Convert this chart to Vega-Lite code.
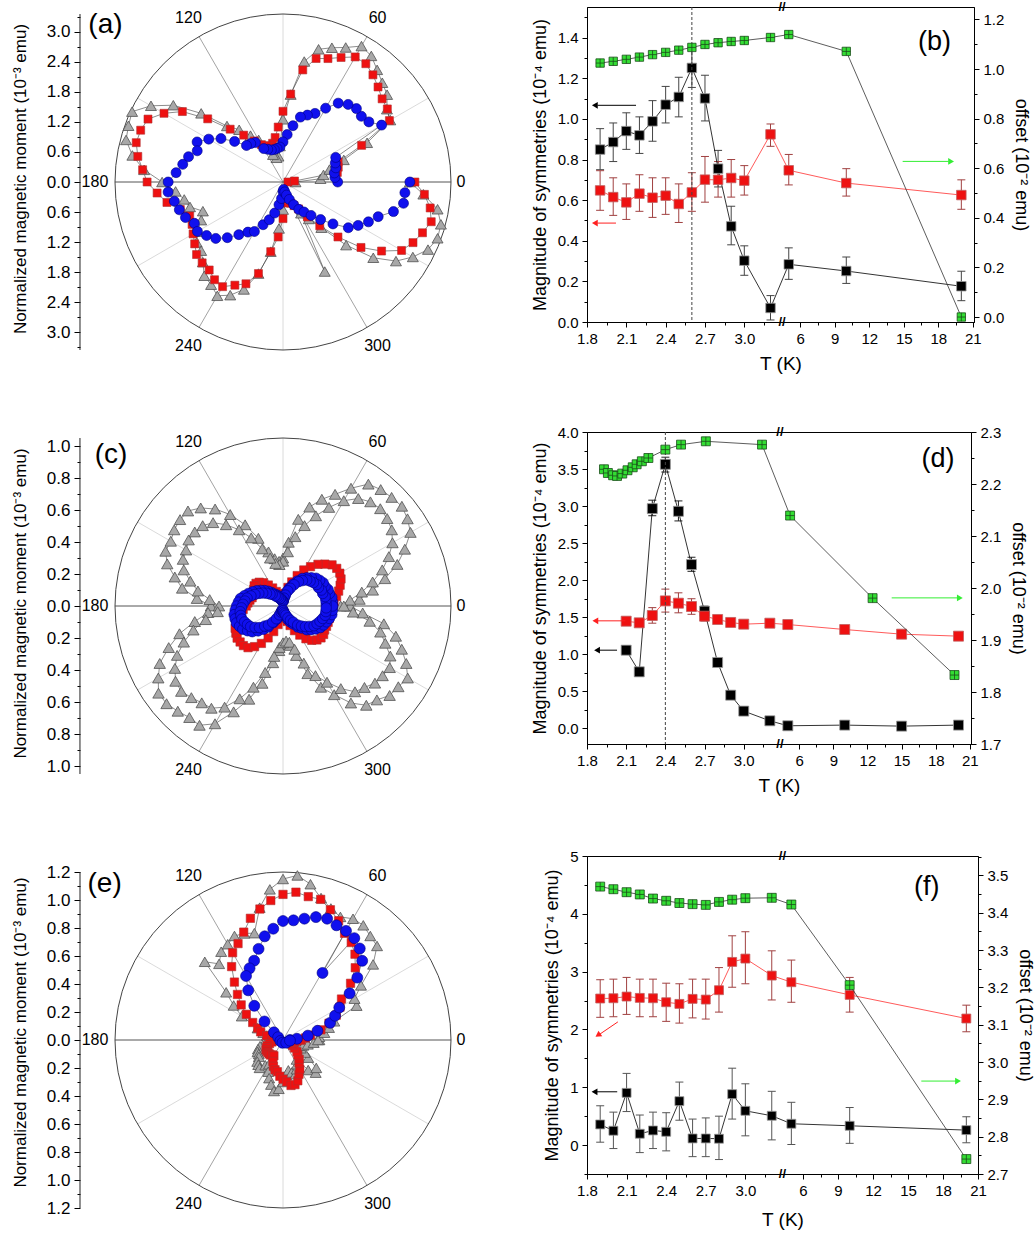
{
"$schema": "https://vega.github.io/schema/vega-lite/v6.json",
"padding": {"left": 11, "top": 0, "right": 5, "bottom": 5},
"config": {
 "font": "Liberation Sans",
 "view": {"stroke": null},
 "axis": {"labelFont": "Liberation Sans", "titleFont": "Liberation Sans", "labelColor": "#000", "titleColor": "#000", "domainColor": "#000", "tickColor": "#000", "grid": false, "titleFontWeight": "normal", "labelFontSize": 15, "titleFontSize": 18, "domainWidth": 1, "tickWidth": 1, "labelOverlap": false, "labelFlush": false},
 "text": {"font": "Liberation Sans", "color": "#000"}
},
"datasets": {
 "sp": [{"a":0},{"a":30},{"a":60},{"a":90},{"a":120},{"a":150},{"a":180},{"a":210},{"a":240},{"a":270},{"a":300},{"a":330}],
 "al": [{"a":0,"t":"0"},{"a":60,"t":"60"},{"a":120,"t":"120"},{"a":180,"t":"180"},{"a":240,"t":"240"},{"a":300,"t":"300"}],
 "pol": [
{"p":"a","s":"g","a":0,"r":0.25},{"p":"a","s":"g","a":5,"r":0.75},{"p":"a","s":"g","a":10,"r":0.82},{"p":"a","s":"g","a":15,"r":0.96},{"p":"a","s":"g","a":20,"r":1.29},{"p":"a","s":"g","a":25,"r":1.85},{"p":"a","s":"g","a":30,"r":2.47},{"p":"a","s":"g","a":35,"r":2.53},{"p":"a","s":"g","a":40,"r":2.71},{"p":"a","s":"g","a":45,"r":2.8},{"p":"a","s":"g","a":50,"r":2.92},{"p":"a","s":"g","a":55,"r":3.07},{"p":"a","s":"g","a":60,"r":3.13},{"p":"a","s":"g","a":65,"r":2.96},{"p":"a","s":"g","a":70,"r":2.85},{"p":"a","s":"g","a":75,"r":2.74},{"p":"a","s":"g","a":80,"r":2.44},{"p":"a","s":"g","a":85,"r":1.75},{"p":"a","s":"g","a":90,"r":1.25},{"p":"a","s":"g","a":95,"r":0.72},{"p":"a","s":"g","a":100,"r":0.52},{"p":"a","s":"g","a":105,"r":0.5},{"p":"a","s":"g","a":110,"r":0.58},{"p":"a","s":"g","a":115,"r":0.75},{"p":"a","s":"g","a":120,"r":0.97},{"p":"a","s":"g","a":125,"r":1.13},{"p":"a","s":"g","a":130,"r":1.36},{"p":"a","s":"g","a":135,"r":1.58},{"p":"a","s":"g","a":140,"r":2.13},{"p":"a","s":"g","a":145,"r":2.67},{"p":"a","s":"g","a":150,"r":3.04},{"p":"a","s":"g","a":155,"r":3.32},{"p":"a","s":"g","a":160,"r":3.28},{"p":"a","s":"g","a":165,"r":3.24},{"p":"a","s":"g","a":170,"r":3.05},{"p":"a","s":"g","a":175,"r":2.78},{"p":"a","s":"g","a":180,"r":2.41},{"p":"a","s":"g","a":185,"r":2.15},{"p":"a","s":"g","a":190,"r":2.0},{"p":"a","s":"g","a":195,"r":1.92},{"p":"a","s":"g","a":200,"r":1.7},{"p":"a","s":"g","a":205,"r":1.8},{"p":"a","s":"g","a":210,"r":1.98},{"p":"a","s":"g","a":215,"r":2.1},{"p":"a","s":"g","a":220,"r":2.13},{"p":"a","s":"g","a":225,"r":2.26},{"p":"a","s":"g","a":230,"r":2.44},{"p":"a","s":"g","a":235,"r":2.5},{"p":"a","s":"g","a":240,"r":2.62},{"p":"a","s":"g","a":245,"r":2.49},{"p":"a","s":"g","a":250,"r":2.28},{"p":"a","s":"g","a":255,"r":1.89},{"p":"a","s":"g","a":260,"r":1.41},{"p":"a","s":"g","a":265,"r":0.93},{"p":"a","s":"g","a":270,"r":0.55},{"p":"a","s":"g","a":275,"r":0.35},{"p":"a","s":"g","a":280,"r":0.3},{"p":"a","s":"g","a":285,"r":0.32},{"p":"a","s":"g","a":290,"r":0.42},{"p":"a","s":"g","a":295,"r":1.97},{"p":"a","s":"g","a":300,"r":0.72},{"p":"a","s":"g","a":305,"r":0.9},{"p":"a","s":"g","a":310,"r":1.19},{"p":"a","s":"g","a":315,"r":1.78},{"p":"a","s":"g","a":320,"r":2.35},{"p":"a","s":"g","a":325,"r":2.75},{"p":"a","s":"g","a":330,"r":2.99},{"p":"a","s":"g","a":335,"r":3.19},{"p":"a","s":"g","a":340,"r":3.28},{"p":"a","s":"g","a":345,"r":3.26},{"p":"a","s":"g","a":350,"r":3.13},{"p":"a","s":"g","a":355,"r":2.81},{"p":"a","s":"g","a":360,"r":2.53},
{"p":"a","s":"r","a":0,"r":0.1},{"p":"a","s":"r","a":5,"r":0.23},{"p":"a","s":"r","a":10,"r":1.1},{"p":"a","s":"r","a":15,"r":1.14},{"p":"a","s":"r","a":20,"r":1.17},{"p":"a","s":"r","a":25,"r":1.73},{"p":"a","s":"r","a":30,"r":2.45},{"p":"a","s":"r","a":35,"r":2.54},{"p":"a","s":"r","a":40,"r":2.58},{"p":"a","s":"r","a":45,"r":2.68},{"p":"a","s":"r","a":50,"r":2.79},{"p":"a","s":"r","a":55,"r":2.88},{"p":"a","s":"r","a":60,"r":2.88},{"p":"a","s":"r","a":65,"r":2.74},{"p":"a","s":"r","a":70,"r":2.62},{"p":"a","s":"r","a":75,"r":2.55},{"p":"a","s":"r","a":80,"r":2.27},{"p":"a","s":"r","a":85,"r":1.76},{"p":"a","s":"r","a":90,"r":1.41},{"p":"a","s":"r","a":95,"r":1.1},{"p":"a","s":"r","a":100,"r":0.9},{"p":"a","s":"r","a":105,"r":0.8},{"p":"a","s":"r","a":110,"r":0.76},{"p":"a","s":"r","a":115,"r":0.8},{"p":"a","s":"r","a":120,"r":0.86},{"p":"a","s":"r","a":125,"r":1.0},{"p":"a","s":"r","a":130,"r":1.22},{"p":"a","s":"r","a":135,"r":1.49},{"p":"a","s":"r","a":140,"r":1.96},{"p":"a","s":"r","a":145,"r":2.45},{"p":"a","s":"r","a":150,"r":2.74},{"p":"a","s":"r","a":155,"r":2.97},{"p":"a","s":"r","a":160,"r":3.02},{"p":"a","s":"r","a":165,"r":3.03},{"p":"a","s":"r","a":170,"r":2.94},{"p":"a","s":"r","a":175,"r":2.81},{"p":"a","s":"r","a":180,"r":2.71},{"p":"a","s":"r","a":185,"r":2.52},{"p":"a","s":"r","a":190,"r":2.35},{"p":"a","s":"r","a":195,"r":2.12},{"p":"a","s":"r","a":200,"r":1.98},{"p":"a","s":"r","a":205,"r":2.0},{"p":"a","s":"r","a":210,"r":2.07},{"p":"a","s":"r","a":215,"r":2.15},{"p":"a","s":"r","a":220,"r":2.25},{"p":"a","s":"r","a":225,"r":2.28},{"p":"a","s":"r","a":230,"r":2.29},{"p":"a","s":"r","a":235,"r":2.38},{"p":"a","s":"r","a":240,"r":2.41},{"p":"a","s":"r","a":245,"r":2.27},{"p":"a","s":"r","a":250,"r":2.16},{"p":"a","s":"r","a":255,"r":1.89},{"p":"a","s":"r","a":260,"r":1.41},{"p":"a","s":"r","a":265,"r":1.1},{"p":"a","s":"r","a":270,"r":0.73},{"p":"a","s":"r","a":275,"r":0.42},{"p":"a","s":"r","a":280,"r":0.3},{"p":"a","s":"r","a":285,"r":0.35},{"p":"a","s":"r","a":290,"r":0.45},{"p":"a","s":"r","a":295,"r":0.52},{"p":"a","s":"r","a":300,"r":0.62},{"p":"a","s":"r","a":305,"r":0.85},{"p":"a","s":"r","a":310,"r":1.14},{"p":"a","s":"r","a":315,"r":1.55},{"p":"a","s":"r","a":320,"r":2.03},{"p":"a","s":"r","a":325,"r":2.4},{"p":"a","s":"r","a":330,"r":2.73},{"p":"a","s":"r","a":335,"r":2.86},{"p":"a","s":"r","a":340,"r":2.96},{"p":"a","s":"r","a":345,"r":3.06},{"p":"a","s":"r","a":350,"r":2.98},{"p":"a","s":"r","a":355,"r":2.83},{"p":"a","s":"r","a":360,"r":2.63},
{"p":"a","s":"b","a":0,"r":1.09},{"p":"a","s":"b","a":5,"r":1.04},{"p":"a","s":"b","a":10,"r":1.04},{"p":"a","s":"b","a":15,"r":1.09},{"p":"a","s":"b","a":20,"r":1.11},{"p":"a","s":"b","a":25,"r":1.16},{"p":"a","s":"b","a":30,"r":2.27},{"p":"a","s":"b","a":35,"r":2.09},{"p":"a","s":"b","a":40,"r":2.04},{"p":"a","s":"b","a":45,"r":2.07},{"p":"a","s":"b","a":50,"r":2.02},{"p":"a","s":"b","a":55,"r":1.92},{"p":"a","s":"b","a":60,"r":1.7},{"p":"a","s":"b","a":65,"r":1.51},{"p":"a","s":"b","a":70,"r":1.42},{"p":"a","s":"b","a":75,"r":1.34},{"p":"a","s":"b","a":80,"r":1.14},{"p":"a","s":"b","a":85,"r":0.95},{"p":"a","s":"b","a":90,"r":0.8},{"p":"a","s":"b","a":95,"r":0.7},{"p":"a","s":"b","a":100,"r":0.68},{"p":"a","s":"b","a":105,"r":0.67},{"p":"a","s":"b","a":110,"r":0.68},{"p":"a","s":"b","a":115,"r":0.72},{"p":"a","s":"b","a":120,"r":0.77},{"p":"a","s":"b","a":125,"r":0.96},{"p":"a","s":"b","a":130,"r":1.0},{"p":"a","s":"b","a":135,"r":1.03},{"p":"a","s":"b","a":140,"r":1.26},{"p":"a","s":"b","a":145,"r":1.51},{"p":"a","s":"b","a":150,"r":1.71},{"p":"a","s":"b","a":155,"r":1.89},{"p":"a","s":"b","a":160,"r":1.82},{"p":"a","s":"b","a":165,"r":1.95},{"p":"a","s":"b","a":170,"r":2.03},{"p":"a","s":"b","a":175,"r":2.14},{"p":"a","s":"b","a":180,"r":2.29},{"p":"a","s":"b","a":185,"r":2.3},{"p":"a","s":"b","a":190,"r":2.2},{"p":"a","s":"b","a":195,"r":2.14},{"p":"a","s":"b","a":200,"r":2.07},{"p":"a","s":"b","a":205,"r":1.95},{"p":"a","s":"b","a":210,"r":1.97},{"p":"a","s":"b","a":215,"r":1.86},{"p":"a","s":"b","a":220,"r":1.75},{"p":"a","s":"b","a":225,"r":1.57},{"p":"a","s":"b","a":230,"r":1.37},{"p":"a","s":"b","a":235,"r":1.22},{"p":"a","s":"b","a":240,"r":1.14},{"p":"a","s":"b","a":245,"r":0.94},{"p":"a","s":"b","a":250,"r":0.8},{"p":"a","s":"b","a":255,"r":0.64},{"p":"a","s":"b","a":260,"r":0.46},{"p":"a","s":"b","a":265,"r":0.33},{"p":"a","s":"b","a":270,"r":0.19},{"p":"a","s":"b","a":275,"r":0.15},{"p":"a","s":"b","a":280,"r":0.2},{"p":"a","s":"b","a":285,"r":0.27},{"p":"a","s":"b","a":290,"r":0.37},{"p":"a","s":"b","a":295,"r":0.5},{"p":"a","s":"b","a":300,"r":0.63},{"p":"a","s":"b","a":305,"r":0.73},{"p":"a","s":"b","a":310,"r":0.87},{"p":"a","s":"b","a":315,"r":1.06},{"p":"a","s":"b","a":320,"r":1.3},{"p":"a","s":"b","a":325,"r":1.59},{"p":"a","s":"b","a":330,"r":1.73},{"p":"a","s":"b","a":335,"r":1.88},{"p":"a","s":"b","a":340,"r":2.02},{"p":"a","s":"b","a":345,"r":2.28},{"p":"a","s":"b","a":350,"r":2.44},{"p":"a","s":"b","a":355,"r":2.44},{"p":"a","s":"b","a":360,"r":2.53},
{"p":"c","s":"g","a":0,"r":0.4},{"p":"c","s":"g","a":5,"r":0.48},{"p":"c","s":"g","a":10,"r":0.57},{"p":"c","s":"g","a":15,"r":0.66},{"p":"c","s":"g","a":20,"r":0.76},{"p":"c","s":"g","a":25,"r":0.84},{"p":"c","s":"g","a":30,"r":0.92},{"p":"c","s":"g","a":35,"r":0.95},{"p":"c","s":"g","a":40,"r":0.97},{"p":"c","s":"g","a":45,"r":0.96},{"p":"c","s":"g","a":50,"r":0.95},{"p":"c","s":"g","a":55,"r":0.93},{"p":"c","s":"g","a":60,"r":0.85},{"p":"c","s":"g","a":65,"r":0.77},{"p":"c","s":"g","a":70,"r":0.71},{"p":"c","s":"g","a":75,"r":0.64},{"p":"c","s":"g","a":80,"r":0.55},{"p":"c","s":"g","a":85,"r":0.4},{"p":"c","s":"g","a":90,"r":0.3},{"p":"c","s":"g","a":95,"r":0.28},{"p":"c","s":"g","a":100,"r":0.3},{"p":"c","s":"g","a":105,"r":0.35},{"p":"c","s":"g","a":110,"r":0.45},{"p":"c","s":"g","a":115,"r":0.56},{"p":"c","s":"g","a":120,"r":0.66},{"p":"c","s":"g","a":125,"r":0.74},{"p":"c","s":"g","a":130,"r":0.8},{"p":"c","s":"g","a":135,"r":0.84},{"p":"c","s":"g","a":140,"r":0.84},{"p":"c","s":"g","a":145,"r":0.83},{"p":"c","s":"g","a":150,"r":0.81},{"p":"c","s":"g","a":155,"r":0.81},{"p":"c","s":"g","a":160,"r":0.77},{"p":"c","s":"g","a":165,"r":0.7},{"p":"c","s":"g","a":170,"r":0.64},{"p":"c","s":"g","a":175,"r":0.54},{"p":"c","s":"g","a":180,"r":0.45},{"p":"c","s":"g","a":185,"r":0.47},{"p":"c","s":"g","a":190,"r":0.56},{"p":"c","s":"g","a":195,"r":0.67},{"p":"c","s":"g","a":200,"r":0.76},{"p":"c","s":"g","a":205,"r":0.85},{"p":"c","s":"g","a":210,"r":0.9},{"p":"c","s":"g","a":215,"r":0.95},{"p":"c","s":"g","a":220,"r":0.95},{"p":"c","s":"g","a":225,"r":0.93},{"p":"c","s":"g","a":230,"r":0.91},{"p":"c","s":"g","a":235,"r":0.91},{"p":"c","s":"g","a":240,"r":0.85},{"p":"c","s":"g","a":245,"r":0.73},{"p":"c","s":"g","a":250,"r":0.62},{"p":"c","s":"g","a":255,"r":0.5},{"p":"c","s":"g","a":260,"r":0.36},{"p":"c","s":"g","a":265,"r":0.28},{"p":"c","s":"g","a":270,"r":0.24},{"p":"c","s":"g","a":275,"r":0.24},{"p":"c","s":"g","a":280,"r":0.25},{"p":"c","s":"g","a":285,"r":0.32},{"p":"c","s":"g","a":290,"r":0.45},{"p":"c","s":"g","a":295,"r":0.56},{"p":"c","s":"g","a":300,"r":0.64},{"p":"c","s":"g","a":305,"r":0.74},{"p":"c","s":"g","a":310,"r":0.81},{"p":"c","s":"g","a":315,"r":0.83},{"p":"c","s":"g","a":320,"r":0.87},{"p":"c","s":"g","a":325,"r":0.88},{"p":"c","s":"g","a":330,"r":0.9},{"p":"c","s":"g","a":335,"r":0.85},{"p":"c","s":"g","a":340,"r":0.79},{"p":"c","s":"g","a":345,"r":0.73},{"p":"c","s":"g","a":350,"r":0.64},{"p":"c","s":"g","a":355,"r":0.5},{"p":"c","s":"g","a":360,"r":0.42},
{"p":"c","s":"g2","a":0,"r":0.36},{"p":"c","s":"g2","a":5,"r":0.42},{"p":"c","s":"g2","a":10,"r":0.5},{"p":"c","s":"g2","a":15,"r":0.58},{"p":"c","s":"g2","a":20,"r":0.66},{"p":"c","s":"g2","a":25,"r":0.73},{"p":"c","s":"g2","a":30,"r":0.79},{"p":"c","s":"g2","a":35,"r":0.83},{"p":"c","s":"g2","a":40,"r":0.85},{"p":"c","s":"g2","a":45,"r":0.86},{"p":"c","s":"g2","a":50,"r":0.85},{"p":"c","s":"g2","a":55,"r":0.82},{"p":"c","s":"g2","a":60,"r":0.76},{"p":"c","s":"g2","a":65,"r":0.68},{"p":"c","s":"g2","a":70,"r":0.6},{"p":"c","s":"g2","a":75,"r":0.52},{"p":"c","s":"g2","a":80,"r":0.44},{"p":"c","s":"g2","a":85,"r":0.34},{"p":"c","s":"g2","a":90,"r":0.28},{"p":"c","s":"g2","a":95,"r":0.26},{"p":"c","s":"g2","a":100,"r":0.27},{"p":"c","s":"g2","a":105,"r":0.31},{"p":"c","s":"g2","a":110,"r":0.38},{"p":"c","s":"g2","a":115,"r":0.47},{"p":"c","s":"g2","a":120,"r":0.55},{"p":"c","s":"g2","a":125,"r":0.62},{"p":"c","s":"g2","a":130,"r":0.68},{"p":"c","s":"g2","a":135,"r":0.71},{"p":"c","s":"g2","a":140,"r":0.72},{"p":"c","s":"g2","a":145,"r":0.72},{"p":"c","s":"g2","a":150,"r":0.7},{"p":"c","s":"g2","a":155,"r":0.69},{"p":"c","s":"g2","a":160,"r":0.66},{"p":"c","s":"g2","a":165,"r":0.6},{"p":"c","s":"g2","a":170,"r":0.54},{"p":"c","s":"g2","a":175,"r":0.46},{"p":"c","s":"g2","a":180,"r":0.4},{"p":"c","s":"g2","a":185,"r":0.41},{"p":"c","s":"g2","a":190,"r":0.49},{"p":"c","s":"g2","a":195,"r":0.58},{"p":"c","s":"g2","a":200,"r":0.66},{"p":"c","s":"g2","a":205,"r":0.73},{"p":"c","s":"g2","a":210,"r":0.78},{"p":"c","s":"g2","a":215,"r":0.82},{"p":"c","s":"g2","a":220,"r":0.83},{"p":"c","s":"g2","a":225,"r":0.81},{"p":"c","s":"g2","a":230,"r":0.79},{"p":"c","s":"g2","a":235,"r":0.78},{"p":"c","s":"g2","a":240,"r":0.73},{"p":"c","s":"g2","a":245,"r":0.64},{"p":"c","s":"g2","a":250,"r":0.54},{"p":"c","s":"g2","a":255,"r":0.43},{"p":"c","s":"g2","a":260,"r":0.32},{"p":"c","s":"g2","a":265,"r":0.26},{"p":"c","s":"g2","a":270,"r":0.23},{"p":"c","s":"g2","a":275,"r":0.22},{"p":"c","s":"g2","a":280,"r":0.23},{"p":"c","s":"g2","a":285,"r":0.28},{"p":"c","s":"g2","a":290,"r":0.38},{"p":"c","s":"g2","a":295,"r":0.48},{"p":"c","s":"g2","a":300,"r":0.55},{"p":"c","s":"g2","a":305,"r":0.63},{"p":"c","s":"g2","a":310,"r":0.7},{"p":"c","s":"g2","a":315,"r":0.72},{"p":"c","s":"g2","a":320,"r":0.75},{"p":"c","s":"g2","a":325,"r":0.76},{"p":"c","s":"g2","a":330,"r":0.77},{"p":"c","s":"g2","a":335,"r":0.74},{"p":"c","s":"g2","a":340,"r":0.68},{"p":"c","s":"g2","a":345,"r":0.63},{"p":"c","s":"g2","a":350,"r":0.55},{"p":"c","s":"g2","a":355,"r":0.44},{"p":"c","s":"g2","a":360,"r":0.38},
{"p":"c","s":"r","a":0,"r":0.31},{"p":"c","s":"r","a":5,"r":0.32},{"p":"c","s":"r","a":10,"r":0.34},{"p":"c","s":"r","a":15,"r":0.36},{"p":"c","s":"r","a":20,"r":0.38},{"p":"c","s":"r","a":25,"r":0.4},{"p":"c","s":"r","a":30,"r":0.41},{"p":"c","s":"r","a":35,"r":0.41},{"p":"c","s":"r","a":40,"r":0.4},{"p":"c","s":"r","a":45,"r":0.37},{"p":"c","s":"r","a":50,"r":0.34},{"p":"c","s":"r","a":55,"r":0.3},{"p":"c","s":"r","a":60,"r":0.26},{"p":"c","s":"r","a":65,"r":0.21},{"p":"c","s":"r","a":70,"r":0.16},{"p":"c","s":"r","a":75,"r":0.12},{"p":"c","s":"r","a":80,"r":0.08},{"p":"c","s":"r","a":85,"r":0.05},{"p":"c","s":"r","a":90,"r":0.04},{"p":"c","s":"r","a":95,"r":0.04},{"p":"c","s":"r","a":100,"r":0.05},{"p":"c","s":"r","a":105,"r":0.06},{"p":"c","s":"r","a":110,"r":0.08},{"p":"c","s":"r","a":115,"r":0.1},{"p":"c","s":"r","a":120,"r":0.13},{"p":"c","s":"r","a":125,"r":0.16},{"p":"c","s":"r","a":130,"r":0.19},{"p":"c","s":"r","a":135,"r":0.21},{"p":"c","s":"r","a":140,"r":0.22},{"p":"c","s":"r","a":145,"r":0.22},{"p":"c","s":"r","a":150,"r":0.21},{"p":"c","s":"r","a":155,"r":0.2},{"p":"c","s":"r","a":160,"r":0.2},{"p":"c","s":"r","a":165,"r":0.2},{"p":"c","s":"r","a":170,"r":0.21},{"p":"c","s":"r","a":175,"r":0.22},{"p":"c","s":"r","a":180,"r":0.23},{"p":"c","s":"r","a":185,"r":0.25},{"p":"c","s":"r","a":190,"r":0.27},{"p":"c","s":"r","a":195,"r":0.29},{"p":"c","s":"r","a":200,"r":0.31},{"p":"c","s":"r","a":205,"r":0.33},{"p":"c","s":"r","a":210,"r":0.34},{"p":"c","s":"r","a":215,"r":0.35},{"p":"c","s":"r","a":220,"r":0.35},{"p":"c","s":"r","a":225,"r":0.35},{"p":"c","s":"r","a":230,"r":0.34},{"p":"c","s":"r","a":235,"r":0.31},{"p":"c","s":"r","a":240,"r":0.27},{"p":"c","s":"r","a":245,"r":0.22},{"p":"c","s":"r","a":250,"r":0.17},{"p":"c","s":"r","a":255,"r":0.12},{"p":"c","s":"r","a":260,"r":0.08},{"p":"c","s":"r","a":265,"r":0.05},{"p":"c","s":"r","a":270,"r":0.04},{"p":"c","s":"r","a":275,"r":0.05},{"p":"c","s":"r","a":280,"r":0.07},{"p":"c","s":"r","a":285,"r":0.1},{"p":"c","s":"r","a":290,"r":0.13},{"p":"c","s":"r","a":295,"r":0.17},{"p":"c","s":"r","a":300,"r":0.21},{"p":"c","s":"r","a":305,"r":0.25},{"p":"c","s":"r","a":310,"r":0.28},{"p":"c","s":"r","a":315,"r":0.3},{"p":"c","s":"r","a":320,"r":0.31},{"p":"c","s":"r","a":325,"r":0.31},{"p":"c","s":"r","a":330,"r":0.3},{"p":"c","s":"r","a":335,"r":0.3},{"p":"c","s":"r","a":340,"r":0.3},{"p":"c","s":"r","a":345,"r":0.3},{"p":"c","s":"r","a":350,"r":0.3},{"p":"c","s":"r","a":355,"r":0.3},{"p":"c","s":"r","a":360,"r":0.31},
{"p":"c","s":"b","a":0,"r":0.31},{"p":"c","s":"b","a":5,"r":0.31},{"p":"c","s":"b","a":10,"r":0.31},{"p":"c","s":"b","a":15,"r":0.3},{"p":"c","s":"b","a":20,"r":0.3},{"p":"c","s":"b","a":25,"r":0.29},{"p":"c","s":"b","a":30,"r":0.29},{"p":"c","s":"b","a":35,"r":0.28},{"p":"c","s":"b","a":40,"r":0.27},{"p":"c","s":"b","a":45,"r":0.25},{"p":"c","s":"b","a":50,"r":0.23},{"p":"c","s":"b","a":55,"r":0.21},{"p":"c","s":"b","a":60,"r":0.18},{"p":"c","s":"b","a":65,"r":0.15},{"p":"c","s":"b","a":70,"r":0.12},{"p":"c","s":"b","a":75,"r":0.09},{"p":"c","s":"b","a":80,"r":0.06},{"p":"c","s":"b","a":85,"r":0.04},{"p":"c","s":"b","a":90,"r":0.03},{"p":"c","s":"b","a":95,"r":0.03},{"p":"c","s":"b","a":100,"r":0.04},{"p":"c","s":"b","a":105,"r":0.05},{"p":"c","s":"b","a":110,"r":0.06},{"p":"c","s":"b","a":115,"r":0.07},{"p":"c","s":"b","a":120,"r":0.08},{"p":"c","s":"b","a":125,"r":0.09},{"p":"c","s":"b","a":130,"r":0.11},{"p":"c","s":"b","a":135,"r":0.13},{"p":"c","s":"b","a":140,"r":0.15},{"p":"c","s":"b","a":145,"r":0.17},{"p":"c","s":"b","a":150,"r":0.19},{"p":"c","s":"b","a":155,"r":0.21},{"p":"c","s":"b","a":160,"r":0.23},{"p":"c","s":"b","a":165,"r":0.25},{"p":"c","s":"b","a":170,"r":0.27},{"p":"c","s":"b","a":175,"r":0.28},{"p":"c","s":"b","a":180,"r":0.29},{"p":"c","s":"b","a":185,"r":0.3},{"p":"c","s":"b","a":190,"r":0.31},{"p":"c","s":"b","a":195,"r":0.31},{"p":"c","s":"b","a":200,"r":0.31},{"p":"c","s":"b","a":205,"r":0.3},{"p":"c","s":"b","a":210,"r":0.29},{"p":"c","s":"b","a":215,"r":0.27},{"p":"c","s":"b","a":220,"r":0.25},{"p":"c","s":"b","a":225,"r":0.22},{"p":"c","s":"b","a":230,"r":0.19},{"p":"c","s":"b","a":235,"r":0.16},{"p":"c","s":"b","a":240,"r":0.12},{"p":"c","s":"b","a":245,"r":0.09},{"p":"c","s":"b","a":250,"r":0.06},{"p":"c","s":"b","a":255,"r":0.04},{"p":"c","s":"b","a":260,"r":0.03},{"p":"c","s":"b","a":265,"r":0.03},{"p":"c","s":"b","a":270,"r":0.03},{"p":"c","s":"b","a":275,"r":0.04},{"p":"c","s":"b","a":280,"r":0.05},{"p":"c","s":"b","a":285,"r":0.07},{"p":"c","s":"b","a":290,"r":0.09},{"p":"c","s":"b","a":295,"r":0.11},{"p":"c","s":"b","a":300,"r":0.13},{"p":"c","s":"b","a":305,"r":0.16},{"p":"c","s":"b","a":310,"r":0.18},{"p":"c","s":"b","a":315,"r":0.21},{"p":"c","s":"b","a":320,"r":0.23},{"p":"c","s":"b","a":325,"r":0.25},{"p":"c","s":"b","a":330,"r":0.27},{"p":"c","s":"b","a":335,"r":0.28},{"p":"c","s":"b","a":340,"r":0.29},{"p":"c","s":"b","a":345,"r":0.3},{"p":"c","s":"b","a":350,"r":0.31},{"p":"c","s":"b","a":355,"r":0.31},{"p":"c","s":"b","a":360,"r":0.31},
{"p":"c","s":"b2","a":2.5,"r":0.27},{"p":"c","s":"b2","a":7.5,"r":0.27},{"p":"c","s":"b2","a":12.5,"r":0.27},{"p":"c","s":"b2","a":17.5,"r":0.26},{"p":"c","s":"b2","a":22.5,"r":0.26},{"p":"c","s":"b2","a":27.5,"r":0.25},{"p":"c","s":"b2","a":32.5,"r":0.25},{"p":"c","s":"b2","a":37.5,"r":0.24},{"p":"c","s":"b2","a":42.5,"r":0.23},{"p":"c","s":"b2","a":47.5,"r":0.22},{"p":"c","s":"b2","a":52.5,"r":0.2},{"p":"c","s":"b2","a":57.5,"r":0.18},{"p":"c","s":"b2","a":62.5,"r":0.15},{"p":"c","s":"b2","a":67.5,"r":0.12},{"p":"c","s":"b2","a":72.5,"r":0.1},{"p":"c","s":"b2","a":77.5,"r":0.07},{"p":"c","s":"b2","a":82.5,"r":0.05},{"p":"c","s":"b2","a":87.5,"r":0.03},{"p":"c","s":"b2","a":92.5,"r":0.03},{"p":"c","s":"b2","a":97.5,"r":0.03},{"p":"c","s":"b2","a":102.5,"r":0.04},{"p":"c","s":"b2","a":107.5,"r":0.05},{"p":"c","s":"b2","a":112.5,"r":0.05},{"p":"c","s":"b2","a":117.5,"r":0.06},{"p":"c","s":"b2","a":122.5,"r":0.07},{"p":"c","s":"b2","a":127.5,"r":0.08},{"p":"c","s":"b2","a":132.5,"r":0.1},{"p":"c","s":"b2","a":137.5,"r":0.11},{"p":"c","s":"b2","a":142.5,"r":0.13},{"p":"c","s":"b2","a":147.5,"r":0.15},{"p":"c","s":"b2","a":152.5,"r":0.17},{"p":"c","s":"b2","a":157.5,"r":0.19},{"p":"c","s":"b2","a":162.5,"r":0.21},{"p":"c","s":"b2","a":167.5,"r":0.23},{"p":"c","s":"b2","a":172.5,"r":0.24},{"p":"c","s":"b2","a":177.5,"r":0.25},{"p":"c","s":"b2","a":182.5,"r":0.26},{"p":"c","s":"b2","a":187.5,"r":0.27},{"p":"c","s":"b2","a":192.5,"r":0.27},{"p":"c","s":"b2","a":197.5,"r":0.27},{"p":"c","s":"b2","a":202.5,"r":0.26},{"p":"c","s":"b2","a":207.5,"r":0.25},{"p":"c","s":"b2","a":212.5,"r":0.24},{"p":"c","s":"b2","a":217.5,"r":0.22},{"p":"c","s":"b2","a":222.5,"r":0.2},{"p":"c","s":"b2","a":227.5,"r":0.17},{"p":"c","s":"b2","a":232.5,"r":0.15},{"p":"c","s":"b2","a":237.5,"r":0.12},{"p":"c","s":"b2","a":242.5,"r":0.09},{"p":"c","s":"b2","a":247.5,"r":0.06},{"p":"c","s":"b2","a":252.5,"r":0.04},{"p":"c","s":"b2","a":257.5,"r":0.03},{"p":"c","s":"b2","a":262.5,"r":0.02},{"p":"c","s":"b2","a":267.5,"r":0.03},{"p":"c","s":"b2","a":272.5,"r":0.03},{"p":"c","s":"b2","a":277.5,"r":0.04},{"p":"c","s":"b2","a":282.5,"r":0.05},{"p":"c","s":"b2","a":287.5,"r":0.06},{"p":"c","s":"b2","a":292.5,"r":0.08},{"p":"c","s":"b2","a":297.5,"r":0.1},{"p":"c","s":"b2","a":302.5,"r":0.12},{"p":"c","s":"b2","a":307.5,"r":0.15},{"p":"c","s":"b2","a":312.5,"r":0.17},{"p":"c","s":"b2","a":317.5,"r":0.19},{"p":"c","s":"b2","a":322.5,"r":0.21},{"p":"c","s":"b2","a":327.5,"r":0.23},{"p":"c","s":"b2","a":332.5,"r":0.24},{"p":"c","s":"b2","a":337.5,"r":0.25},{"p":"c","s":"b2","a":342.5,"r":0.26},{"p":"c","s":"b2","a":347.5,"r":0.27},{"p":"c","s":"b2","a":352.5,"r":0.27},{"p":"c","s":"b2","a":357.5,"r":0.27},
{"p":"e","s":"g","a":0,"r":0.26},{"p":"e","s":"g","a":5,"r":0.26},{"p":"e","s":"g","a":10,"r":0.3},{"p":"e","s":"g","a":15,"r":0.34},{"p":"e","s":"g","a":20,"r":0.39},{"p":"e","s":"g","a":25,"r":0.58},{"p":"e","s":"g","a":30,"r":0.59},{"p":"e","s":"g","a":35,"r":0.68},{"p":"e","s":"g","a":40,"r":0.84},{"p":"e","s":"g","a":45,"r":0.95},{"p":"e","s":"g","a":50,"r":0.97},{"p":"e","s":"g","a":55,"r":1.0},{"p":"e","s":"g","a":60,"r":1.0},{"p":"e","s":"g","a":65,"r":0.97},{"p":"e","s":"g","a":70,"r":1.0},{"p":"e","s":"g","a":75,"r":1.05},{"p":"e","s":"g","a":80,"r":1.13},{"p":"e","s":"g","a":85,"r":1.18},{"p":"e","s":"g","a":90,"r":1.15},{"p":"e","s":"g","a":95,"r":1.08},{"p":"e","s":"g","a":100,"r":0.96},{"p":"e","s":"g","a":105,"r":0.79},{"p":"e","s":"g","a":110,"r":0.81},{"p":"e","s":"g","a":115,"r":0.82},{"p":"e","s":"g","a":120,"r":0.79},{"p":"e","s":"g","a":125,"r":0.77},{"p":"e","s":"g","a":130,"r":0.71},{"p":"e","s":"g","a":135,"r":0.79},{"p":"e","s":"g","a":140,"r":0.53},{"p":"e","s":"g","a":145,"r":0.43},{"p":"e","s":"g","a":150,"r":0.34},{"p":"e","s":"g","a":155,"r":0.2},{"p":"e","s":"g","a":160,"r":0.15},{"p":"e","s":"g","a":165,"r":0.12},{"p":"e","s":"g","a":170,"r":0.1},{"p":"e","s":"g","a":175,"r":0.09},{"p":"e","s":"g","a":180,"r":0.1},{"p":"e","s":"g","a":185,"r":0.12},{"p":"e","s":"g","a":190,"r":0.14},{"p":"e","s":"g","a":195,"r":0.17},{"p":"e","s":"g","a":200,"r":0.19},{"p":"e","s":"g","a":205,"r":0.2},{"p":"e","s":"g","a":210,"r":0.2},{"p":"e","s":"g","a":215,"r":0.21},{"p":"e","s":"g","a":220,"r":0.24},{"p":"e","s":"g","a":225,"r":0.25},{"p":"e","s":"g","a":230,"r":0.26},{"p":"e","s":"g","a":235,"r":0.22},{"p":"e","s":"g","a":240,"r":0.2},{"p":"e","s":"g","a":245,"r":0.25},{"p":"e","s":"g","a":250,"r":0.29},{"p":"e","s":"g","a":255,"r":0.33},{"p":"e","s":"g","a":260,"r":0.37},{"p":"e","s":"g","a":265,"r":0.35},{"p":"e","s":"g","a":270,"r":0.3},{"p":"e","s":"g","a":275,"r":0.25},{"p":"e","s":"g","a":280,"r":0.22},{"p":"e","s":"g","a":285,"r":0.24},{"p":"e","s":"g","a":290,"r":0.26},{"p":"e","s":"g","a":295,"r":0.23},{"p":"e","s":"g","a":300,"r":0.2},{"p":"e","s":"g","a":305,"r":0.17},{"p":"e","s":"g","a":310,"r":0.28},{"p":"e","s":"g","a":315,"r":0.33},{"p":"e","s":"g","a":320,"r":0.31},{"p":"e","s":"g","a":325,"r":0.22},{"p":"e","s":"g","a":330,"r":0.18},{"p":"e","s":"g","a":335,"r":0.14},{"p":"e","s":"g","a":340,"r":0.12},{"p":"e","s":"g","a":345,"r":0.15},{"p":"e","s":"g","a":350,"r":0.18},{"p":"e","s":"g","a":355,"r":0.22},{"p":"e","s":"g","a":360,"r":0.25},
{"p":"e","s":"r","a":0,"r":0.13},{"p":"e","s":"r","a":5,"r":0.16},{"p":"e","s":"r","a":10,"r":0.2},{"p":"e","s":"r","a":15,"r":0.28},{"p":"e","s":"r","a":20,"r":0.35},{"p":"e","s":"r","a":25,"r":0.42},{"p":"e","s":"r","a":30,"r":0.47},{"p":"e","s":"r","a":35,"r":0.51},{"p":"e","s":"r","a":40,"r":0.63},{"p":"e","s":"r","a":45,"r":0.73},{"p":"e","s":"r","a":50,"r":0.8},{"p":"e","s":"r","a":55,"r":0.85},{"p":"e","s":"r","a":60,"r":0.88},{"p":"e","s":"r","a":65,"r":0.94},{"p":"e","s":"r","a":70,"r":0.99},{"p":"e","s":"r","a":75,"r":1.04},{"p":"e","s":"r","a":80,"r":1.04},{"p":"e","s":"r","a":85,"r":1.06},{"p":"e","s":"r","a":90,"r":1.04},{"p":"e","s":"r","a":95,"r":1.0},{"p":"e","s":"r","a":100,"r":0.95},{"p":"e","s":"r","a":105,"r":0.9},{"p":"e","s":"r","a":110,"r":0.82},{"p":"e","s":"r","a":115,"r":0.76},{"p":"e","s":"r","a":120,"r":0.72},{"p":"e","s":"r","a":125,"r":0.64},{"p":"e","s":"r","a":130,"r":0.54},{"p":"e","s":"r","a":135,"r":0.46},{"p":"e","s":"r","a":140,"r":0.39},{"p":"e","s":"r","a":145,"r":0.32},{"p":"e","s":"r","a":150,"r":0.25},{"p":"e","s":"r","a":155,"r":0.2},{"p":"e","s":"r","a":160,"r":0.17},{"p":"e","s":"r","a":165,"r":0.12},{"p":"e","s":"r","a":170,"r":0.08},{"p":"e","s":"r","a":175,"r":0.06},{"p":"e","s":"r","a":180,"r":0.05},{"p":"e","s":"r","a":185,"r":0.06},{"p":"e","s":"r","a":190,"r":0.08},{"p":"e","s":"r","a":195,"r":0.1},{"p":"e","s":"r","a":200,"r":0.12},{"p":"e","s":"r","a":205,"r":0.13},{"p":"e","s":"r","a":210,"r":0.14},{"p":"e","s":"r","a":215,"r":0.14},{"p":"e","s":"r","a":220,"r":0.14},{"p":"e","s":"r","a":225,"r":0.14},{"p":"e","s":"r","a":230,"r":0.14},{"p":"e","s":"r","a":235,"r":0.13},{"p":"e","s":"r","a":240,"r":0.13},{"p":"e","s":"r","a":245,"r":0.17},{"p":"e","s":"r","a":250,"r":0.2},{"p":"e","s":"r","a":255,"r":0.22},{"p":"e","s":"r","a":260,"r":0.23},{"p":"e","s":"r","a":265,"r":0.26},{"p":"e","s":"r","a":270,"r":0.28},{"p":"e","s":"r","a":275,"r":0.3},{"p":"e","s":"r","a":280,"r":0.33},{"p":"e","s":"r","a":285,"r":0.33},{"p":"e","s":"r","a":290,"r":0.31},{"p":"e","s":"r","a":295,"r":0.27},{"p":"e","s":"r","a":300,"r":0.24},{"p":"e","s":"r","a":305,"r":0.2},{"p":"e","s":"r","a":310,"r":0.18},{"p":"e","s":"r","a":315,"r":0.15},{"p":"e","s":"r","a":320,"r":0.13},{"p":"e","s":"r","a":325,"r":0.1},{"p":"e","s":"r","a":330,"r":0.08},{"p":"e","s":"r","a":335,"r":0.07},{"p":"e","s":"r","a":340,"r":0.06},{"p":"e","s":"r","a":345,"r":0.07},{"p":"e","s":"r","a":350,"r":0.08},{"p":"e","s":"r","a":355,"r":0.1},{"p":"e","s":"r","a":360,"r":0.12},
{"p":"e","s":"b","a":0,"r":0.05},{"p":"e","s":"b","a":5,"r":0.1},{"p":"e","s":"b","a":10,"r":0.18},{"p":"e","s":"b","a":15,"r":0.255},{"p":"e","s":"b","a":20,"r":0.358},{"p":"e","s":"b","a":25,"r":0.41},{"p":"e","s":"b","a":30,"r":0.464},{"p":"e","s":"b","a":35,"r":0.581},{"p":"e","s":"b","a":40,"r":0.693},{"p":"e","s":"b","a":45,"r":0.8},{"p":"e","s":"b","a":50,"r":0.853},{"p":"e","s":"b","a":55,"r":0.888},{"p":"e","s":"b","a":59.5,"r":0.556},{"p":"e","s":"b","a":60,"r":0.9},{"p":"e","s":"b","a":65,"r":0.904},{"p":"e","s":"b","a":70,"r":0.922},{"p":"e","s":"b","a":75,"r":0.909},{"p":"e","s":"b","a":80,"r":0.88},{"p":"e","s":"b","a":85,"r":0.858},{"p":"e","s":"b","a":90,"r":0.85},{"p":"e","s":"b","a":95,"r":0.798},{"p":"e","s":"b","a":100,"r":0.752},{"p":"e","s":"b","a":105,"r":0.674},{"p":"e","s":"b","a":110,"r":0.603},{"p":"e","s":"b","a":115,"r":0.565},{"p":"e","s":"b","a":120,"r":0.528},{"p":"e","s":"b","a":125,"r":0.433},{"p":"e","s":"b","a":130,"r":0.319},{"p":"e","s":"b","a":135,"r":0.187},{"p":"e","s":"b","a":140,"r":0.085},{"p":"e","s":"b","a":150,"r":0.04},{"p":"e","s":"b","a":200,"r":0.02},{"p":"e","s":"b","a":260,"r":0.02},{"p":"e","s":"b","a":320,"r":0.03},{"p":"e","s":"b","a":355,"r":0.05}
 ],
 "ts": [
{"p":"b","s":"k","T":1.9,"v":0.849,"lo":0.75,"hi":0.952},{"p":"b","s":"k","T":2.0,"v":0.886,"lo":0.79,"hi":0.98},{"p":"b","s":"k","T":2.1,"v":0.94,"lo":0.85,"hi":1.03},{"p":"b","s":"k","T":2.2,"v":0.919,"lo":0.83,"hi":1.01},{"p":"b","s":"k","T":2.3,"v":0.988,"lo":0.89,"hi":1.09},{"p":"b","s":"k","T":2.4,"v":1.07,"lo":0.98,"hi":1.16},{"p":"b","s":"k","T":2.5,"v":1.108,"lo":1.01,"hi":1.205},{"p":"b","s":"k","T":2.6,"v":1.251,"lo":1.155,"hi":1.35},{"p":"b","s":"k","T":2.7,"v":1.101,"lo":0.99,"hi":1.215},{"p":"b","s":"k","T":2.8,"v":0.755,"lo":0.665,"hi":0.845},{"p":"b","s":"k","T":2.9,"v":0.471,"lo":0.38,"hi":0.57},{"p":"b","s":"k","T":3.0,"v":0.302,"lo":0.23,"hi":0.375},{"p":"b","s":"k","T":3.2,"v":0.069,"lo":0.01,"hi":0.13},{"p":"b","s":"k","T":5,"v":0.284,"lo":0.21,"hi":0.365},{"p":"b","s":"k","T":10,"v":0.251,"lo":0.19,"hi":0.32},{"p":"b","s":"k","T":20,"v":0.176,"lo":0.105,"hi":0.25},
{"p":"b","s":"r","T":1.9,"v":0.648,"lo":0.55,"hi":0.745},{"p":"b","s":"r","T":2.0,"v":0.615,"lo":0.525,"hi":0.71},{"p":"b","s":"r","T":2.1,"v":0.589,"lo":0.505,"hi":0.68},{"p":"b","s":"r","T":2.2,"v":0.632,"lo":0.545,"hi":0.725},{"p":"b","s":"r","T":2.3,"v":0.612,"lo":0.515,"hi":0.71},{"p":"b","s":"r","T":2.4,"v":0.622,"lo":0.53,"hi":0.71},{"p":"b","s":"r","T":2.5,"v":0.581,"lo":0.49,"hi":0.68},{"p":"b","s":"r","T":2.6,"v":0.638,"lo":0.545,"hi":0.735},{"p":"b","s":"r","T":2.7,"v":0.701,"lo":0.59,"hi":0.815},{"p":"b","s":"r","T":2.8,"v":0.7,"lo":0.615,"hi":0.79},{"p":"b","s":"r","T":2.9,"v":0.709,"lo":0.615,"hi":0.8},{"p":"b","s":"r","T":3.0,"v":0.696,"lo":0.625,"hi":0.77},{"p":"b","s":"r","T":3.2,"v":0.924,"lo":0.865,"hi":0.975},{"p":"b","s":"r","T":5,"v":0.747,"lo":0.675,"hi":0.825},{"p":"b","s":"r","T":10,"v":0.684,"lo":0.62,"hi":0.755},{"p":"b","s":"r","T":20,"v":0.625,"lo":0.555,"hi":0.7},
{"p":"b","s":"g","T":1.9,"v":1.024},{"p":"b","s":"g","T":2.0,"v":1.031},{"p":"b","s":"g","T":2.1,"v":1.039},{"p":"b","s":"g","T":2.2,"v":1.048},{"p":"b","s":"g","T":2.3,"v":1.058},{"p":"b","s":"g","T":2.4,"v":1.067},{"p":"b","s":"g","T":2.5,"v":1.076},{"p":"b","s":"g","T":2.6,"v":1.087},{"p":"b","s":"g","T":2.7,"v":1.099},{"p":"b","s":"g","T":2.8,"v":1.106},{"p":"b","s":"g","T":2.9,"v":1.111},{"p":"b","s":"g","T":3.0,"v":1.115},{"p":"b","s":"g","T":3.2,"v":1.127},{"p":"b","s":"g","T":5,"v":1.139},{"p":"b","s":"g","T":10,"v":1.071},{"p":"b","s":"g","T":20,"v":0.0},
{"p":"d","s":"k","T":2.1,"v":1.056,"lo":1.0,"hi":1.11},{"p":"d","s":"k","T":2.2,"v":0.764,"lo":0.71,"hi":0.82},{"p":"d","s":"k","T":2.3,"v":2.966,"lo":2.87,"hi":3.08},{"p":"d","s":"k","T":2.4,"v":3.564,"lo":3.46,"hi":3.66},{"p":"d","s":"k","T":2.5,"v":2.93,"lo":2.8,"hi":3.07},{"p":"d","s":"k","T":2.6,"v":2.211,"lo":2.12,"hi":2.31},{"p":"d","s":"k","T":2.7,"v":1.582,"lo":1.5,"hi":1.65},{"p":"d","s":"k","T":2.8,"v":0.89,"lo":0.84,"hi":0.94},{"p":"d","s":"k","T":2.9,"v":0.449,"lo":0.42,"hi":0.48},{"p":"d","s":"k","T":3.0,"v":0.234,"lo":0.21,"hi":0.26},{"p":"d","s":"k","T":3.2,"v":0.103,"lo":0.08,"hi":0.13},{"p":"d","s":"k","T":5,"v":0.036,"lo":0.02,"hi":0.05},{"p":"d","s":"k","T":10,"v":0.045,"lo":0.03,"hi":0.06},{"p":"d","s":"k","T":15,"v":0.031,"lo":0.02,"hi":0.045},{"p":"d","s":"k","T":20,"v":0.045,"lo":0.03,"hi":0.06},
{"p":"d","s":"r","T":2.1,"v":1.447,"lo":1.4,"hi":1.5},{"p":"d","s":"r","T":2.2,"v":1.425,"lo":1.38,"hi":1.47},{"p":"d","s":"r","T":2.3,"v":1.524,"lo":1.42,"hi":1.63},{"p":"d","s":"r","T":2.4,"v":1.721,"lo":1.57,"hi":1.88},{"p":"d","s":"r","T":2.5,"v":1.69,"lo":1.56,"hi":1.83},{"p":"d","s":"r","T":2.6,"v":1.645,"lo":1.54,"hi":1.75},{"p":"d","s":"r","T":2.7,"v":1.515,"lo":1.45,"hi":1.6},{"p":"d","s":"r","T":2.8,"v":1.47,"lo":1.43,"hi":1.51},{"p":"d","s":"r","T":2.9,"v":1.43,"lo":1.4,"hi":1.46},{"p":"d","s":"r","T":3.0,"v":1.407,"lo":1.38,"hi":1.43},{"p":"d","s":"r","T":3.2,"v":1.42,"lo":1.39,"hi":1.45},{"p":"d","s":"r","T":5,"v":1.402,"lo":1.38,"hi":1.43},{"p":"d","s":"r","T":10,"v":1.335,"lo":1.31,"hi":1.36},{"p":"d","s":"r","T":15,"v":1.272,"lo":1.25,"hi":1.3},{"p":"d","s":"r","T":20,"v":1.245,"lo":1.22,"hi":1.27},
{"p":"d","s":"g","T":1.93,"v":2.2283},{"p":"d","s":"g","T":1.96,"v":2.2212},{"p":"d","s":"g","T":2.0,"v":2.2168},{"p":"d","s":"g","T":2.03,"v":2.2155},{"p":"d","s":"g","T":2.07,"v":2.22},{"p":"d","s":"g","T":2.11,"v":2.2264},{"p":"d","s":"g","T":2.15,"v":2.2321},{"p":"d","s":"g","T":2.18,"v":2.2379},{"p":"d","s":"g","T":2.22,"v":2.2437},{"p":"d","s":"g","T":2.27,"v":2.25},{"p":"d","s":"g","T":2.4,"v":2.2661},{"p":"d","s":"g","T":2.52,"v":2.2757},{"p":"d","s":"g","T":2.71,"v":2.2821},{"p":"d","s":"g","T":3.14,"v":2.2757},{"p":"d","s":"g","T":5.2,"v":2.1393},{"p":"d","s":"g","T":12.45,"v":1.9805},{"p":"d","s":"g","T":19.65,"v":1.8326},
{"p":"f","s":"k","T":1.9,"v":0.357,"lo":0.05,"hi":0.68},{"p":"f","s":"k","T":2.0,"v":0.248,"lo":-0.06,"hi":0.57},{"p":"f","s":"k","T":2.1,"v":0.904,"lo":0.58,"hi":1.24},{"p":"f","s":"k","T":2.2,"v":0.196,"lo":-0.13,"hi":0.52},{"p":"f","s":"k","T":2.3,"v":0.253,"lo":-0.06,"hi":0.57},{"p":"f","s":"k","T":2.4,"v":0.23,"lo":-0.1,"hi":0.56},{"p":"f","s":"k","T":2.5,"v":0.76,"lo":0.43,"hi":1.09},{"p":"f","s":"k","T":2.6,"v":0.115,"lo":-0.2,"hi":0.45},{"p":"f","s":"k","T":2.7,"v":0.115,"lo":-0.2,"hi":0.47},{"p":"f","s":"k","T":2.8,"v":0.11,"lo":-0.25,"hi":0.5},{"p":"f","s":"k","T":2.9,"v":0.881,"lo":0.45,"hi":1.33},{"p":"f","s":"k","T":3.0,"v":0.593,"lo":0.16,"hi":1.06},{"p":"f","s":"k","T":3.2,"v":0.507,"lo":0.09,"hi":0.93},{"p":"f","s":"k","T":5,"v":0.369,"lo":0.01,"hi":0.74},{"p":"f","s":"k","T":10,"v":0.334,"lo":0.03,"hi":0.65},{"p":"f","s":"k","T":20,"v":0.259,"lo":0.04,"hi":0.49},
{"p":"f","s":"r","T":1.9,"v":2.535,"lo":2.21,"hi":2.86},{"p":"f","s":"r","T":2.0,"v":2.54,"lo":2.22,"hi":2.87},{"p":"f","s":"r","T":2.1,"v":2.569,"lo":2.26,"hi":2.9},{"p":"f","s":"r","T":2.2,"v":2.546,"lo":2.22,"hi":2.87},{"p":"f","s":"r","T":2.3,"v":2.54,"lo":2.22,"hi":2.87},{"p":"f","s":"r","T":2.4,"v":2.471,"lo":2.14,"hi":2.8},{"p":"f","s":"r","T":2.5,"v":2.442,"lo":2.11,"hi":2.79},{"p":"f","s":"r","T":2.6,"v":2.529,"lo":2.2,"hi":2.87},{"p":"f","s":"r","T":2.7,"v":2.517,"lo":2.18,"hi":2.87},{"p":"f","s":"r","T":2.8,"v":2.679,"lo":2.3,"hi":3.07},{"p":"f","s":"r","T":2.9,"v":3.168,"lo":2.73,"hi":3.62},{"p":"f","s":"r","T":3.0,"v":3.226,"lo":2.79,"hi":3.69},{"p":"f","s":"r","T":3.2,"v":2.932,"lo":2.51,"hi":3.36},{"p":"f","s":"r","T":5,"v":2.817,"lo":2.47,"hi":3.2},{"p":"f","s":"r","T":10,"v":2.598,"lo":2.3,"hi":2.9},{"p":"f","s":"r","T":20,"v":2.189,"lo":1.96,"hi":2.42},
{"p":"f","s":"g","T":1.9,"v":3.47},{"p":"f","s":"g","T":2.0,"v":3.463},{"p":"f","s":"g","T":2.1,"v":3.455},{"p":"f","s":"g","T":2.2,"v":3.449},{"p":"f","s":"g","T":2.3,"v":3.438},{"p":"f","s":"g","T":2.4,"v":3.432},{"p":"f","s":"g","T":2.5,"v":3.426},{"p":"f","s":"g","T":2.6,"v":3.423},{"p":"f","s":"g","T":2.7,"v":3.421},{"p":"f","s":"g","T":2.8,"v":3.429},{"p":"f","s":"g","T":2.9,"v":3.435},{"p":"f","s":"g","T":3.0,"v":3.439},{"p":"f","s":"g","T":3.2,"v":3.44},{"p":"f","s":"g","T":5,"v":3.422},{"p":"f","s":"g","T":10,"v":3.206},{"p":"f","s":"g","T":20,"v":2.74}
 ]
},
"columns": 2,
"bounds": "flush",
"spacing": {"row": 82, "column": 136},
"concat": [
 {"width": 336, "height": 343, "layer": [
  {"data": {"name": "sp"}, "transform": [{"filter": "indexof([30,90,150,210,270,330], datum.a) >= 0"}, {"calculate": "3.35*cos(datum.a*PI/180)", "as": "ex"}, {"calculate": "3.35*sin(datum.a*PI/180)", "as": "ey"}],
   "mark": {"type": "rule", "color": "#d0d0d0", "strokeWidth": 0.8},
   "encoding": {"x": {"field": "ex", "type": "quantitative", "scale": {"domain": [-3.35, 3.35], "nice": false, "zero": false}, "axis": null},
    "y": {"field": "ey", "type": "quantitative", "scale": {"domain": [-3.35, 3.49], "nice": false, "zero": false},
      "axis": {"title": "Normalized magnetic moment (10⁻³ emu)", "titleFontSize": 17, "labelFontSize": 17, "offset": 35, "labelPadding": 4, "titlePadding": 17, "domain": false, "labelOverlap": false, "tickCount": 100,
        "values": [-3.3,-3,-2.7,-2.4,-2.1,-1.8,-1.5,-1.2,-0.9,-0.6,-0.3,0,0.3,0.6,0.9,1.2,1.5,1.8,2.1,2.4,2.7,3,3.3],
        "labelExpr": "indexof([-3,-2.4,-1.8,-1.2,-0.6,0,0.6,1.2,1.8,2.4,3], datum.value) >= 0 ? format(abs(datum.value), '.1f') : ''",
        "tickSize": {"condition": {"test": "indexof([-3,-2.4,-1.8,-1.2,-0.6,0,0.6,1.2,1.8,2.4,3], datum.value) >= 0", "value": 6}, "value": 3}}},
    "x2": {"datum": 0}, "y2": {"datum": 0}}},
  {"data": {"name": "sp"}, "transform": [{"filter": "indexof([60,120,240,300], datum.a) >= 0"}, {"calculate": "3.35*cos(datum.a*PI/180)", "as": "ex"}, {"calculate": "3.35*sin(datum.a*PI/180)", "as": "ey"}],
   "mark": {"type": "rule", "color": "#8c8c8c", "strokeWidth": 0.8},
   "encoding": {"x": {"field": "ex", "type": "quantitative", "scale": {"domain": [-3.35, 3.35], "nice": false, "zero": false}, "axis": null},
    "y": {"field": "ey", "type": "quantitative", "scale": {"domain": [-3.35, 3.49], "nice": false, "zero": false}},
    "x2": {"datum": 0}, "y2": {"datum": 0}}},
  {"data": {"name": "sp"}, "transform": [{"filter": "indexof([0,180], datum.a) >= 0"}, {"calculate": "3.35*cos(datum.a*PI/180)", "as": "ex"}, {"calculate": "3.35*sin(datum.a*PI/180)", "as": "ey"}],
   "mark": {"type": "rule", "color": "#555", "strokeWidth": 1},
   "encoding": {"x": {"field": "ex", "type": "quantitative", "scale": {"domain": [-3.35, 3.35], "nice": false, "zero": false}, "axis": null},
    "y": {"field": "ey", "type": "quantitative", "scale": {"domain": [-3.35, 3.49], "nice": false, "zero": false}},
    "x2": {"datum": 0}, "y2": {"datum": 0}}},
  {"data": {"values": [{}]}, "mark": {"type": "rule", "color": "#222", "strokeWidth": 1},
   "encoding": {"x": {"datum": -4.048, "type": "quantitative", "scale": {"domain": [-3.35, 3.35], "nice": false, "zero": false}, "axis": null},
    "y": {"datum": -3.35, "type": "quantitative", "scale": {"domain": [-3.35, 3.49], "nice": false, "zero": false}}, "y2": {"datum": 3.35}}},
  {"data": {"values": [{}]}, "mark": {"type": "point", "shape": "circle", "size": 112896, "filled": false, "stroke": "#444", "strokeWidth": 1, "opacity": 1},
   "encoding": {"x": {"datum": 0, "type": "quantitative", "scale": {"domain": [-3.35, 3.35], "nice": false, "zero": false}, "axis": null},
    "y": {"datum": 0, "type": "quantitative", "scale": {"domain": [-3.35, 3.49], "nice": false, "zero": false}}}},
  {"data": {"name": "pol"}, "transform": [{"filter": "datum.p=='a'"}, {"calculate": "datum.r*cos(datum.a*PI/180)", "as": "x"}, {"calculate": "datum.r*sin(datum.a*PI/180)", "as": "y"}],
   "mark": {"type": "line", "strokeWidth": 0.7, "color": "#333", "opacity": 0.8},
   "encoding": {"x": {"field": "x", "type": "quantitative", "scale": {"domain": [-3.35, 3.35], "nice": false, "zero": false}, "axis": null},
    "y": {"field": "y", "type": "quantitative", "scale": {"domain": [-3.35, 3.49], "nice": false, "zero": false}},
    "detail": {"field": "s"}, "order": {"field": "a", "type": "quantitative"}}},
  {"data": {"name": "pol"}, "transform": [{"filter": "datum.p=='a' && datum.s=='g'"}, {"calculate": "datum.r*cos(datum.a*PI/180)", "as": "x"}, {"calculate": "datum.r*sin(datum.a*PI/180)", "as": "y"}],
   "mark": {"type": "point", "shape": "triangle-up", "filled": true, "size": 120, "fill": "#a8a8a8", "stroke": "#505050", "strokeWidth": 0.8, "opacity": 1},
   "encoding": {"x": {"field": "x", "type": "quantitative", "scale": {"domain": [-3.35, 3.35], "nice": false, "zero": false}, "axis": null},
    "y": {"field": "y", "type": "quantitative", "scale": {"domain": [-3.35, 3.49], "nice": false, "zero": false}}}},
  {"data": {"name": "pol"}, "transform": [{"filter": "datum.p=='a' && datum.s=='r'"}, {"calculate": "datum.r*cos(datum.a*PI/180)", "as": "x"}, {"calculate": "datum.r*sin(datum.a*PI/180)", "as": "y"}],
   "mark": {"type": "point", "shape": "square", "filled": true, "size": 64, "fill": "#ee1111", "stroke": "#b03030", "strokeWidth": 0.6, "opacity": 1},
   "encoding": {"x": {"field": "x", "type": "quantitative", "scale": {"domain": [-3.35, 3.35], "nice": false, "zero": false}, "axis": null},
    "y": {"field": "y", "type": "quantitative", "scale": {"domain": [-3.35, 3.49], "nice": false, "zero": false}}}},
  {"data": {"name": "pol"}, "transform": [{"filter": "datum.p=='a' && datum.s=='b'"}, {"calculate": "datum.r*cos(datum.a*PI/180)", "as": "x"}, {"calculate": "datum.r*sin(datum.a*PI/180)", "as": "y"}],
   "mark": {"type": "point", "shape": "circle", "filled": true, "size": 100, "fill": "#1010ee", "stroke": "#000080", "strokeWidth": 0.6, "opacity": 1},
   "encoding": {"x": {"field": "x", "type": "quantitative", "scale": {"domain": [-3.35, 3.35], "nice": false, "zero": false}, "axis": null},
    "y": {"field": "y", "type": "quantitative", "scale": {"domain": [-3.35, 3.49], "nice": false, "zero": false}}}},
  {"data": {"name": "al"}, "transform": [{"calculate": "datum.a==0 ? 3.55 : datum.a==180 ? 3.75 : 3.77", "as": "rr"}, {"calculate": "datum.rr*cos(datum.a*PI/180)", "as": "lx"}, {"calculate": "datum.rr*sin(datum.a*PI/180)", "as": "ly"}],
   "mark": {"type": "text", "fontSize": 16, "baseline": "middle", "align": "center"},
   "encoding": {"x": {"field": "lx", "type": "quantitative", "scale": {"domain": [-3.35, 3.35], "nice": false, "zero": false}, "axis": null},
    "y": {"field": "ly", "type": "quantitative", "scale": {"domain": [-3.35, 3.49], "nice": false, "zero": false}},
    "text": {"field": "t"}}},
  {"data": {"values": [{}]}, "mark": {"type": "text", "fontSize": 28, "baseline": "middle", "align": "center", "text": "(a)"},
   "encoding": {"x": {"datum": -3.54, "type": "quantitative", "scale": {"domain": [-3.35, 3.35], "nice": false, "zero": false}, "axis": null},
    "y": {"datum": 3.14, "type": "quantitative", "scale": {"domain": [-3.35, 3.49], "nice": false, "zero": false}}}}
 ]},
 {"width": 387, "height": 315, "view": {"stroke": "#000", "strokeWidth": 1}, "resolve": {"scale": {"y": "independent"}}, "layer": [
  {"layer": [
   {"data": {"name": "ts"}, "transform": [{"filter": "datum.p=='b' && datum.s!='g'"}],
    "mark": {"type": "rule", "strokeWidth": 1},
    "encoding": {"x": {"field": "T", "type": "quantitative", "scale": {"domain": [1.8, 3.28, 4.5, 21.1], "range": [0, 194, 196, 387], "nice": false, "zero": false},
       "axis": {"title": "T (K)", "titleFontSize": 19, "titlePadding": 8, "labelOverlap": false, "tickCount": 100, "labelPadding": 4, "values": [1.8,1.95,2.1,2.25,2.4,2.55,2.7,2.85,3.0,3.15,6,7.5,9,10.5,12,13.5,15,16.5,18,19.5,21],
         "labelExpr": "indexof([1.8,2.1,2.4,2.7,3.0], datum.value) >= 0 ? format(datum.value, '.1f') : indexof([6,9,12,15,18,21], datum.value) >= 0 ? format(datum.value, 'd') : ''",
         "tickSize": {"condition": {"test": "indexof([1.8,2.1,2.4,2.7,3.0,6,9,12,15,18,21], datum.value) >= 0", "value": 5}, "value": 3}}},
     "y": {"field": "lo", "type": "quantitative", "scale": {"domain": [0, 1.551], "nice": false, "zero": false},
       "axis": {"title": "Magnitude of symmetries (10⁻⁴ emu)", "titlePadding": 8, "labelPadding": 4, "labelOverlap": false, "tickCount": 100, "values": [0,0.1,0.2,0.3,0.4,0.5,0.6,0.7,0.8,0.9,1,1.1,1.2,1.3,1.4,1.5],
         "labelExpr": "indexof([0,0.2,0.4,0.6,0.8,1,1.2,1.4], datum.value) >= 0 ? format(datum.value, '.1f') : ''",
         "tickSize": {"condition": {"test": "indexof([0,0.2,0.4,0.6,0.8,1,1.2,1.4], datum.value) >= 0", "value": 5}, "value": 3}}},
     "y2": {"field": "hi"},
     "color": {"condition": {"test": "datum.s=='k'", "value": "#444"}, "value": "#a04040"}}},
   {"data": {"name": "ts"}, "transform": [{"filter": "datum.p=='b' && datum.s!='g'"}, {"fold": ["lo", "hi"], "as": ["cap", "cv"]}],
    "mark": {"type": "point", "shape": "stroke", "size": 64, "strokeWidth": 1, "opacity": 1},
    "encoding": {"x": {"field": "T", "type": "quantitative", "scale": {"domain": [1.8, 3.28, 4.5, 21.1], "range": [0, 194, 196, 387], "nice": false, "zero": false}},
     "y": {"field": "cv", "type": "quantitative", "scale": {"domain": [0, 1.551], "nice": false, "zero": false}},
     "color": {"condition": {"test": "datum.s=='k'", "value": "#444"}, "value": "#a04040"}}},
   {"data": {"name": "ts"}, "transform": [{"filter": "datum.p=='b' && datum.s!='g'"}],
    "mark": {"type": "line", "strokeWidth": 0.8},
    "encoding": {"x": {"field": "T", "type": "quantitative", "scale": {"domain": [1.8, 3.28, 4.5, 21.1], "range": [0, 194, 196, 387], "nice": false, "zero": false}},
     "y": {"field": "v", "type": "quantitative", "scale": {"domain": [0, 1.551], "nice": false, "zero": false}},
     "detail": {"field": "s"},
     "color": {"condition": {"test": "datum.s=='k'", "value": "#000"}, "value": "#ff3030"}}},
   {"data": {"name": "ts"}, "transform": [{"filter": "datum.p=='b' && datum.s!='g'"}],
    "mark": {"type": "point", "shape": "square", "filled": true, "size": 90, "strokeWidth": 0.8, "opacity": 1},
    "encoding": {"x": {"field": "T", "type": "quantitative", "scale": {"domain": [1.8, 3.28, 4.5, 21.1], "range": [0, 194, 196, 387], "nice": false, "zero": false}},
     "y": {"field": "v", "type": "quantitative", "scale": {"domain": [0, 1.551], "nice": false, "zero": false}},
     "fill": {"condition": {"test": "datum.s=='k'", "value": "#000"}, "value": "#ee1111"},
     "stroke": {"condition": {"test": "datum.s=='k'", "value": "#999"}, "value": "#c06060"}}},
   {"data": {"values": [{}]}, "mark": {"type": "rule", "strokeDash": [3, 2], "color": "#444", "strokeWidth": 1},
    "encoding": {"x": {"datum": 2.6, "type": "quantitative", "scale": {"domain": [1.8, 3.28, 4.5, 21.1], "range": [0, 194, 196, 387], "nice": false, "zero": false}}}},
   {"data": {"values": [{}]}, "mark": {"type": "rule", "color": "#000", "strokeWidth": 1},
    "encoding": {"x": {"datum": 1.88, "type": "quantitative", "scale": {"domain": [1.8, 3.28, 4.5, 21.1], "range": [0, 194, 196, 387], "nice": false, "zero": false}}, "x2": {"datum": 2.174},
     "y": {"datum": 1.067, "type": "quantitative", "scale": {"domain": [0, 1.551], "nice": false, "zero": false}}}},
   {"data": {"values": [{}]}, "mark": {"type": "point", "shape": "triangle-left", "filled": true, "size": 45, "color": "#000", "opacity": 1},
    "encoding": {"x": {"datum": 1.86, "type": "quantitative", "scale": {"domain": [1.8, 3.28, 4.5, 21.1], "range": [0, 194, 196, 387], "nice": false, "zero": false}},
     "y": {"datum": 1.067, "type": "quantitative", "scale": {"domain": [0, 1.551], "nice": false, "zero": false}}}},
   {"data": {"values": [{}]}, "mark": {"type": "rule", "color": "#ff2020", "strokeWidth": 1},
    "encoding": {"x": {"datum": 1.88, "type": "quantitative", "scale": {"domain": [1.8, 3.28, 4.5, 21.1], "range": [0, 194, 196, 387], "nice": false, "zero": false}}, "x2": {"datum": 2.021},
     "y": {"datum": 0.487, "type": "quantitative", "scale": {"domain": [0, 1.551], "nice": false, "zero": false}}}},
   {"data": {"values": [{}]}, "mark": {"type": "point", "shape": "triangle-left", "filled": true, "size": 45, "color": "#ff2020", "opacity": 1},
    "encoding": {"x": {"datum": 1.86, "type": "quantitative", "scale": {"domain": [1.8, 3.28, 4.5, 21.1], "range": [0, 194, 196, 387], "nice": false, "zero": false}},
     "y": {"datum": 0.487, "type": "quantitative", "scale": {"domain": [0, 1.551], "nice": false, "zero": false}}}},
   {"data": {"values": [{}]}, "mark": {"type": "text", "fontSize": 27, "text": "(b)", "baseline": "middle", "align": "center"},
    "encoding": {"x": {"datum": 17.66, "type": "quantitative", "scale": {"domain": [1.8, 3.28, 4.5, 21.1], "range": [0, 194, 196, 387], "nice": false, "zero": false}},
     "y": {"datum": 1.379, "type": "quantitative", "scale": {"domain": [0, 1.551], "nice": false, "zero": false}}}},
   {"data": {"values": [{}]}, "mark": {"type": "text", "fontSize": 13, "fontWeight": "bold", "text": "//", "baseline": "middle", "align": "center"},
    "encoding": {"x": {"datum": 3.9, "type": "quantitative", "scale": {"domain": [1.8, 3.28, 4.5, 21.1], "range": [0, 194, 196, 387], "nice": false, "zero": false}},
     "y": {"datum": 0, "type": "quantitative", "scale": {"domain": [0, 1.551], "nice": false, "zero": false}}}},
   {"data": {"values": [{}]}, "mark": {"type": "text", "fontSize": 13, "fontWeight": "bold", "text": "//", "baseline": "middle", "align": "center"},
    "encoding": {"x": {"datum": 3.9, "type": "quantitative", "scale": {"domain": [1.8, 3.28, 4.5, 21.1], "range": [0, 194, 196, 387], "nice": false, "zero": false}},
     "y": {"datum": 1.551, "type": "quantitative", "scale": {"domain": [0, 1.551], "nice": false, "zero": false}}}}
  ]},
  {"layer": [
   {"data": {"name": "ts"}, "transform": [{"filter": "datum.p=='b' && datum.s=='g'"}],
    "mark": {"type": "line", "strokeWidth": 0.8, "color": "#333"},
    "encoding": {"x": {"field": "T", "type": "quantitative", "scale": {"domain": [1.8, 3.28, 4.5, 21.1], "range": [0, 194, 196, 387], "nice": false, "zero": false}},
     "y": {"field": "v", "type": "quantitative", "scale": {"domain": [-0.02, 1.25], "nice": false, "zero": false},
       "axis": {"orient": "right", "title": "offset (10⁻² emu)", "titlePadding": 8, "labelPadding": 4, "labelOverlap": false, "tickCount": 100, "values": [0,0.1,0.2,0.3,0.4,0.5,0.6,0.7,0.8,0.9,1,1.1,1.2],
         "labelExpr": "indexof([0,0.2,0.4,0.6,0.8,1,1.2], datum.value) >= 0 ? format(datum.value, '.1f') : ''",
         "tickSize": {"condition": {"test": "indexof([0,0.2,0.4,0.6,0.8,1,1.2], datum.value) >= 0", "value": 5}, "value": 3}}}}},
   {"data": {"name": "ts"}, "transform": [{"filter": "datum.p=='b' && datum.s=='g'"}],
    "mark": {"type": "point", "shape": "M-1,-1H1V1H-1Z M0,-1V1 M-1,0H1", "filled": true, "size": 70, "fill": "#33dd33", "stroke": "#1b4d1b", "strokeWidth": 0.8, "opacity": 1},
    "encoding": {"x": {"field": "T", "type": "quantitative", "scale": {"domain": [1.8, 3.28, 4.5, 21.1], "range": [0, 194, 196, 387], "nice": false, "zero": false}},
     "y": {"field": "v", "type": "quantitative", "scale": {"domain": [-0.02, 1.25], "nice": false, "zero": false}}}},
   {"data": {"values": [{}]}, "mark": {"type": "rule", "color": "#33ee33", "strokeWidth": 1},
    "encoding": {"x": {"datum": 14.9, "type": "quantitative", "scale": {"domain": [1.8, 3.28, 4.5, 21.1], "range": [0, 194, 196, 387], "nice": false, "zero": false}}, "x2": {"datum": 18.9},
     "y": {"datum": 0.6275, "type": "quantitative", "scale": {"domain": [-0.02, 1.25], "nice": false, "zero": false}}}},
   {"data": {"values": [{}]}, "mark": {"type": "point", "shape": "triangle-right", "filled": true, "size": 45, "color": "#33ee33", "opacity": 1},
    "encoding": {"x": {"datum": 19.11, "type": "quantitative", "scale": {"domain": [1.8, 3.28, 4.5, 21.1], "range": [0, 194, 196, 387], "nice": false, "zero": false}},
     "y": {"datum": 0.6275, "type": "quantitative", "scale": {"domain": [-0.02, 1.25], "nice": false, "zero": false}}}}
  ]}
 ]},
 {"width": 336, "height": 342, "layer": [
  {"data": {"name": "sp"}, "transform": [{"filter": "indexof([30,90,150,210,270,330], datum.a) >= 0"}, {"calculate": "1.05*cos(datum.a*PI/180)", "as": "ex"}, {"calculate": "1.05*sin(datum.a*PI/180)", "as": "ey"}],
   "mark": {"type": "rule", "color": "#d0d0d0", "strokeWidth": 0.8},
   "encoding": {"x": {"field": "ex", "type": "quantitative", "scale": {"domain": [-1.05, 1.05], "nice": false, "zero": false}, "axis": null},
    "y": {"field": "ey", "type": "quantitative", "scale": {"domain": [-1.05, 1.0875], "nice": false, "zero": false},
      "axis": {"title": "Normalized magnetic moment (10⁻³ emu)", "titleFontSize": 17, "labelFontSize": 17, "offset": 35, "labelPadding": 4, "titlePadding": 17, "domain": false, "labelOverlap": false, "tickCount": 100,
        "values": [-1,-0.9,-0.8,-0.7,-0.6,-0.5,-0.4,-0.3,-0.2,-0.1,0,0.1,0.2,0.3,0.4,0.5,0.6,0.7,0.8,0.9,1],
        "labelExpr": "indexof([-1,-0.8,-0.6,-0.4,-0.2,0,0.2,0.4,0.6,0.8,1], datum.value) >= 0 ? format(abs(datum.value), '.1f') : ''",
        "tickSize": {"condition": {"test": "indexof([-1,-0.8,-0.6,-0.4,-0.2,0,0.2,0.4,0.6,0.8,1], datum.value) >= 0", "value": 6}, "value": 3}}},
    "x2": {"datum": 0}, "y2": {"datum": 0}}},
  {"data": {"name": "sp"}, "transform": [{"filter": "indexof([60,120,240,300], datum.a) >= 0"}, {"calculate": "1.05*cos(datum.a*PI/180)", "as": "ex"}, {"calculate": "1.05*sin(datum.a*PI/180)", "as": "ey"}],
   "mark": {"type": "rule", "color": "#8c8c8c", "strokeWidth": 0.8},
   "encoding": {"x": {"field": "ex", "type": "quantitative", "scale": {"domain": [-1.05, 1.05], "nice": false, "zero": false}, "axis": null},
    "y": {"field": "ey", "type": "quantitative", "scale": {"domain": [-1.05, 1.0875], "nice": false, "zero": false}},
    "x2": {"datum": 0}, "y2": {"datum": 0}}},
  {"data": {"name": "sp"}, "transform": [{"filter": "indexof([0,180], datum.a) >= 0"}, {"calculate": "1.05*cos(datum.a*PI/180)", "as": "ex"}, {"calculate": "1.05*sin(datum.a*PI/180)", "as": "ey"}],
   "mark": {"type": "rule", "color": "#555", "strokeWidth": 1},
   "encoding": {"x": {"field": "ex", "type": "quantitative", "scale": {"domain": [-1.05, 1.05], "nice": false, "zero": false}, "axis": null},
    "y": {"field": "ey", "type": "quantitative", "scale": {"domain": [-1.05, 1.0875], "nice": false, "zero": false}},
    "x2": {"datum": 0}, "y2": {"datum": 0}}},
  {"data": {"values": [{}]}, "mark": {"type": "rule", "color": "#222", "strokeWidth": 1},
   "encoding": {"x": {"datum": -1.269, "type": "quantitative", "scale": {"domain": [-1.05, 1.05], "nice": false, "zero": false}, "axis": null},
    "y": {"datum": -1.05, "type": "quantitative", "scale": {"domain": [-1.05, 1.0875], "nice": false, "zero": false}}, "y2": {"datum": 1.05}}},
  {"data": {"values": [{}]}, "mark": {"type": "point", "shape": "circle", "size": 112896, "filled": false, "stroke": "#444", "strokeWidth": 1, "opacity": 1},
   "encoding": {"x": {"datum": 0, "type": "quantitative", "scale": {"domain": [-1.05, 1.05], "nice": false, "zero": false}, "axis": null},
    "y": {"datum": 0, "type": "quantitative", "scale": {"domain": [-1.05, 1.0875], "nice": false, "zero": false}}}},
  {"data": {"name": "pol"}, "transform": [{"filter": "datum.p=='c'"}, {"calculate": "datum.r*cos(datum.a*PI/180)", "as": "x"}, {"calculate": "datum.r*sin(datum.a*PI/180)", "as": "y"}],
   "mark": {"type": "line", "strokeWidth": 0.7, "color": "#333", "opacity": 0.8},
   "encoding": {"x": {"field": "x", "type": "quantitative", "scale": {"domain": [-1.05, 1.05], "nice": false, "zero": false}, "axis": null},
    "y": {"field": "y", "type": "quantitative", "scale": {"domain": [-1.05, 1.0875], "nice": false, "zero": false}},
    "detail": {"field": "s"}, "order": {"field": "a", "type": "quantitative"}}},
  {"data": {"name": "pol"}, "transform": [{"filter": "datum.p=='c' && substring(datum.s,0,1)=='g'"}, {"calculate": "datum.r*cos(datum.a*PI/180)", "as": "x"}, {"calculate": "datum.r*sin(datum.a*PI/180)", "as": "y"}],
   "mark": {"type": "point", "shape": "triangle-up", "filled": true, "size": 130, "fill": "#a8a8a8", "stroke": "#505050", "strokeWidth": 0.8, "opacity": 1},
   "encoding": {"x": {"field": "x", "type": "quantitative", "scale": {"domain": [-1.05, 1.05], "nice": false, "zero": false}, "axis": null},
    "y": {"field": "y", "type": "quantitative", "scale": {"domain": [-1.05, 1.0875], "nice": false, "zero": false}}}},
  {"data": {"name": "pol"}, "transform": [{"filter": "datum.p=='c' && datum.s=='r'"}, {"calculate": "datum.r*cos(datum.a*PI/180)", "as": "x"}, {"calculate": "datum.r*sin(datum.a*PI/180)", "as": "y"}],
   "mark": {"type": "point", "shape": "square", "filled": true, "size": 70, "fill": "#ee1111", "stroke": "#b03030", "strokeWidth": 0.6, "opacity": 1},
   "encoding": {"x": {"field": "x", "type": "quantitative", "scale": {"domain": [-1.05, 1.05], "nice": false, "zero": false}, "axis": null},
    "y": {"field": "y", "type": "quantitative", "scale": {"domain": [-1.05, 1.0875], "nice": false, "zero": false}}}},
  {"data": {"name": "pol"}, "transform": [{"filter": "datum.p=='c' && substring(datum.s,0,1)=='b'"}, {"calculate": "datum.r*cos(datum.a*PI/180)", "as": "x"}, {"calculate": "datum.r*sin(datum.a*PI/180)", "as": "y"}],
   "mark": {"type": "point", "shape": "circle", "filled": true, "size": 110, "fill": "#1010ee", "stroke": "#000080", "strokeWidth": 0.6, "opacity": 1},
   "encoding": {"x": {"field": "x", "type": "quantitative", "scale": {"domain": [-1.05, 1.05], "nice": false, "zero": false}, "axis": null},
    "y": {"field": "y", "type": "quantitative", "scale": {"domain": [-1.05, 1.0875], "nice": false, "zero": false}}}},
  {"data": {"name": "al"}, "transform": [{"calculate": "datum.a==0 ? 1.1125 : datum.a==180 ? 1.175 : 1.181", "as": "rr"}, {"calculate": "datum.rr*cos(datum.a*PI/180)", "as": "lx"}, {"calculate": "datum.rr*sin(datum.a*PI/180)", "as": "ly"}],
   "mark": {"type": "text", "fontSize": 16, "baseline": "middle", "align": "center"},
   "encoding": {"x": {"field": "lx", "type": "quantitative", "scale": {"domain": [-1.05, 1.05], "nice": false, "zero": false}, "axis": null},
    "y": {"field": "ly", "type": "quantitative", "scale": {"domain": [-1.05, 1.0875], "nice": false, "zero": false}},
    "text": {"field": "t"}}},
  {"data": {"values": [{}]}, "mark": {"type": "text", "fontSize": 28, "baseline": "middle", "align": "center", "text": "(c)"},
   "encoding": {"x": {"datum": -1.075, "type": "quantitative", "scale": {"domain": [-1.05, 1.05], "nice": false, "zero": false}, "axis": null},
    "y": {"datum": 0.944, "type": "quantitative", "scale": {"domain": [-1.05, 1.0875], "nice": false, "zero": false}}}}
 ]},
 {"width": 384, "height": 312, "view": {"stroke": "#000", "strokeWidth": 1}, "resolve": {"scale": {"y": "independent"}}, "layer": [
  {"layer": [
   {"data": {"name": "ts"}, "transform": [{"filter": "datum.p=='d' && datum.s!='g'"}],
    "mark": {"type": "rule", "strokeWidth": 1},
    "encoding": {"x": {"field": "T", "type": "quantitative", "scale": {"domain": [1.8, 3.27, 4.4, 21.1], "range": [0, 192, 194, 384], "nice": false, "zero": false},
       "axis": {"title": "T (K)", "titleFontSize": 19, "titlePadding": 8, "labelOverlap": false, "tickCount": 100, "labelPadding": 4, "values": [1.8,1.95,2.1,2.25,2.4,2.55,2.7,2.85,3.0,3.15,6,7.5,9,10.5,12,13.5,15,16.5,18,19.5,21],
         "labelExpr": "indexof([1.8,2.1,2.4,2.7,3.0], datum.value) >= 0 ? format(datum.value, '.1f') : indexof([6,9,12,15,18,21], datum.value) >= 0 ? format(datum.value, 'd') : ''",
         "tickSize": {"condition": {"test": "indexof([1.8,2.1,2.4,2.7,3.0,6,9,12,15,18,21], datum.value) >= 0", "value": 5}, "value": 3}}},
     "y": {"field": "lo", "type": "quantitative", "scale": {"domain": [-0.21, 4.0], "nice": false, "zero": false},
       "axis": {"title": "Magnitude of symmetries (10⁻⁴ emu)", "titlePadding": 8, "labelPadding": 4, "labelOverlap": false, "tickCount": 100, "values": [0,0.25,0.5,0.75,1,1.25,1.5,1.75,2,2.25,2.5,2.75,3,3.25,3.5,3.75,4],
         "labelExpr": "indexof([0,0.5,1,1.5,2,2.5,3,3.5,4], datum.value) >= 0 ? format(datum.value, '.1f') : ''",
         "tickSize": {"condition": {"test": "indexof([0,0.5,1,1.5,2,2.5,3,3.5,4], datum.value) >= 0", "value": 5}, "value": 3}}},
     "y2": {"field": "hi"},
     "color": {"condition": {"test": "datum.s=='k'", "value": "#222"}, "value": "#a04040"}}},
   {"data": {"name": "ts"}, "transform": [{"filter": "datum.p=='d' && datum.s!='g'"}, {"fold": ["lo", "hi"], "as": ["cap", "cv"]}],
    "mark": {"type": "point", "shape": "stroke", "size": 64, "strokeWidth": 1, "opacity": 1},
    "encoding": {"x": {"field": "T", "type": "quantitative", "scale": {"domain": [1.8, 3.27, 4.4, 21.1], "range": [0, 192, 194, 384], "nice": false, "zero": false}},
     "y": {"field": "cv", "type": "quantitative", "scale": {"domain": [-0.21, 4.0], "nice": false, "zero": false}},
     "color": {"condition": {"test": "datum.s=='k'", "value": "#222"}, "value": "#a04040"}}},
   {"data": {"name": "ts"}, "transform": [{"filter": "datum.p=='d' && datum.s!='g'"}],
    "mark": {"type": "line", "strokeWidth": 0.8},
    "encoding": {"x": {"field": "T", "type": "quantitative", "scale": {"domain": [1.8, 3.27, 4.4, 21.1], "range": [0, 192, 194, 384], "nice": false, "zero": false}},
     "y": {"field": "v", "type": "quantitative", "scale": {"domain": [-0.21, 4.0], "nice": false, "zero": false}},
     "detail": {"field": "s"},
     "color": {"condition": {"test": "datum.s=='k'", "value": "#000"}, "value": "#ff3030"}}},
   {"data": {"name": "ts"}, "transform": [{"filter": "datum.p=='d' && datum.s!='g'"}],
    "mark": {"type": "point", "shape": "square", "filled": true, "size": 100, "strokeWidth": 0.8, "opacity": 1},
    "encoding": {"x": {"field": "T", "type": "quantitative", "scale": {"domain": [1.8, 3.27, 4.4, 21.1], "range": [0, 192, 194, 384], "nice": false, "zero": false}},
     "y": {"field": "v", "type": "quantitative", "scale": {"domain": [-0.21, 4.0], "nice": false, "zero": false}},
     "fill": {"condition": {"test": "datum.s=='k'", "value": "#000"}, "value": "#ee1111"},
     "stroke": {"condition": {"test": "datum.s=='k'", "value": "#999"}, "value": "#c06060"}}},
   {"data": {"values": [{}]}, "mark": {"type": "rule", "strokeDash": [3, 2], "color": "#444", "strokeWidth": 1},
    "encoding": {"x": {"datum": 2.4, "type": "quantitative", "scale": {"domain": [1.8, 3.27, 4.4, 21.1], "range": [0, 192, 194, 384], "nice": false, "zero": false}}}},
   {"data": {"values": [{}]}, "mark": {"type": "rule", "color": "#000", "strokeWidth": 1},
    "encoding": {"x": {"datum": 1.89, "type": "quantitative", "scale": {"domain": [1.8, 3.27, 4.4, 21.1], "range": [0, 192, 194, 384], "nice": false, "zero": false}}, "x2": {"datum": 2.03},
     "y": {"datum": 1.056, "type": "quantitative", "scale": {"domain": [-0.21, 4.0], "nice": false, "zero": false}}}},
   {"data": {"values": [{}]}, "mark": {"type": "point", "shape": "triangle-left", "filled": true, "size": 45, "color": "#000", "opacity": 1},
    "encoding": {"x": {"datum": 1.877, "type": "quantitative", "scale": {"domain": [1.8, 3.27, 4.4, 21.1], "range": [0, 192, 194, 384], "nice": false, "zero": false}},
     "y": {"datum": 1.056, "type": "quantitative", "scale": {"domain": [-0.21, 4.0], "nice": false, "zero": false}}}},
   {"data": {"values": [{}]}, "mark": {"type": "rule", "color": "#ff2020", "strokeWidth": 1},
    "encoding": {"x": {"datum": 1.88, "type": "quantitative", "scale": {"domain": [1.8, 3.27, 4.4, 21.1], "range": [0, 192, 194, 384], "nice": false, "zero": false}}, "x2": {"datum": 2.094},
     "y": {"datum": 1.452, "type": "quantitative", "scale": {"domain": [-0.21, 4.0], "nice": false, "zero": false}}}},
   {"data": {"values": [{}]}, "mark": {"type": "point", "shape": "triangle-left", "filled": true, "size": 45, "color": "#ff2020", "opacity": 1},
    "encoding": {"x": {"datum": 1.864, "type": "quantitative", "scale": {"domain": [1.8, 3.27, 4.4, 21.1], "range": [0, 192, 194, 384], "nice": false, "zero": false}},
     "y": {"datum": 1.452, "type": "quantitative", "scale": {"domain": [-0.21, 4.0], "nice": false, "zero": false}}}},
   {"data": {"values": [{}]}, "mark": {"type": "text", "fontSize": 27, "text": "(d)", "baseline": "middle", "align": "center"},
    "encoding": {"x": {"datum": 18.2, "type": "quantitative", "scale": {"domain": [1.8, 3.27, 4.4, 21.1], "range": [0, 192, 194, 384], "nice": false, "zero": false}},
     "y": {"datum": 3.64, "type": "quantitative", "scale": {"domain": [-0.21, 4.0], "nice": false, "zero": false}}}},
   {"data": {"values": [{}]}, "mark": {"type": "text", "fontSize": 13, "fontWeight": "bold", "text": "//", "baseline": "middle", "align": "center"},
    "encoding": {"x": {"datum": 3.8, "type": "quantitative", "scale": {"domain": [1.8, 3.27, 4.4, 21.1], "range": [0, 192, 194, 384], "nice": false, "zero": false}},
     "y": {"datum": -0.21, "type": "quantitative", "scale": {"domain": [-0.21, 4.0], "nice": false, "zero": false}}}},
   {"data": {"values": [{}]}, "mark": {"type": "text", "fontSize": 13, "fontWeight": "bold", "text": "//", "baseline": "middle", "align": "center"},
    "encoding": {"x": {"datum": 3.8, "type": "quantitative", "scale": {"domain": [1.8, 3.27, 4.4, 21.1], "range": [0, 192, 194, 384], "nice": false, "zero": false}},
     "y": {"datum": 4.0, "type": "quantitative", "scale": {"domain": [-0.21, 4.0], "nice": false, "zero": false}}}}
  ]},
  {"layer": [
   {"data": {"name": "ts"}, "transform": [{"filter": "datum.p=='d' && datum.s=='g'"}],
    "mark": {"type": "line", "strokeWidth": 0.8, "color": "#333"},
    "encoding": {"x": {"field": "T", "type": "quantitative", "scale": {"domain": [1.8, 3.27, 4.4, 21.1], "range": [0, 192, 194, 384], "nice": false, "zero": false}},
     "y": {"field": "v", "type": "quantitative", "scale": {"domain": [1.7, 2.3], "nice": false, "zero": false},
       "axis": {"orient": "right", "title": "offset (10⁻² emu)", "titlePadding": 8, "labelPadding": 4, "labelOverlap": false, "tickCount": 100, "values": [1.7,1.75,1.8,1.85,1.9,1.95,2,2.05,2.1,2.15,2.2,2.25,2.3],
         "labelExpr": "indexof([1.7,1.8,1.9,2,2.1,2.2,2.3], datum.value) >= 0 ? format(datum.value, '.1f') : ''",
         "tickSize": {"condition": {"test": "indexof([1.7,1.8,1.9,2,2.1,2.2,2.3], datum.value) >= 0", "value": 5}, "value": 3}}}}},
   {"data": {"name": "ts"}, "transform": [{"filter": "datum.p=='d' && datum.s=='g'"}],
    "mark": {"type": "point", "shape": "M-1,-1H1V1H-1Z M0,-1V1 M-1,0H1", "filled": true, "size": 80, "fill": "#33dd33", "stroke": "#1b4d1b", "strokeWidth": 0.8, "opacity": 1},
    "encoding": {"x": {"field": "T", "type": "quantitative", "scale": {"domain": [1.8, 3.27, 4.4, 21.1], "range": [0, 192, 194, 384], "nice": false, "zero": false}},
     "y": {"field": "v", "type": "quantitative", "scale": {"domain": [1.7, 2.3], "nice": false, "zero": false}}}},
   {"data": {"values": [{}]}, "mark": {"type": "rule", "color": "#33ee33", "strokeWidth": 1},
    "encoding": {"x": {"datum": 14.13, "type": "quantitative", "scale": {"domain": [1.8, 3.27, 4.4, 21.1], "range": [0, 192, 194, 384], "nice": false, "zero": false}}, "x2": {"datum": 19.9},
     "y": {"datum": 1.981, "type": "quantitative", "scale": {"domain": [1.7, 2.3], "nice": false, "zero": false}}}},
   {"data": {"values": [{}]}, "mark": {"type": "point", "shape": "triangle-right", "filled": true, "size": 45, "color": "#33ee33", "opacity": 1},
    "encoding": {"x": {"datum": 20.12, "type": "quantitative", "scale": {"domain": [1.8, 3.27, 4.4, 21.1], "range": [0, 192, 194, 384], "nice": false, "zero": false}},
     "y": {"datum": 1.981, "type": "quantitative", "scale": {"domain": [1.7, 2.3], "nice": false, "zero": false}}}}
  ]}
 ]},
 {"width": 336, "height": 352, "layer": [
  {"data": {"name": "sp"}, "transform": [{"filter": "indexof([30,90,150,210,270,330], datum.a) >= 0"}, {"calculate": "1.2*cos(datum.a*PI/180)", "as": "ex"}, {"calculate": "1.2*sin(datum.a*PI/180)", "as": "ey"}],
   "mark": {"type": "rule", "color": "#d0d0d0", "strokeWidth": 0.8},
   "encoding": {"x": {"field": "ex", "type": "quantitative", "scale": {"domain": [-1.2, 1.2], "nice": false, "zero": false}, "axis": null},
    "y": {"field": "ey", "type": "quantitative", "scale": {"domain": [-1.2, 1.3143], "nice": false, "zero": false},
      "axis": {"title": "Normalized magnetic moment (10⁻³ emu)", "titleFontSize": 17, "labelFontSize": 17, "offset": 35, "labelPadding": 4, "titlePadding": 17, "domain": false, "labelOverlap": false, "tickCount": 100,
        "values": [-1.2,-1.1,-1,-0.9,-0.8,-0.7,-0.6,-0.5,-0.4,-0.3,-0.2,-0.1,0,0.1,0.2,0.3,0.4,0.5,0.6,0.7,0.8,0.9,1,1.1,1.2],
        "labelExpr": "indexof([-1.2,-1,-0.8,-0.6,-0.4,-0.2,0,0.2,0.4,0.6,0.8,1,1.2], datum.value) >= 0 ? format(abs(datum.value), '.1f') : ''",
        "tickSize": {"condition": {"test": "indexof([-1.2,-1,-0.8,-0.6,-0.4,-0.2,0,0.2,0.4,0.6,0.8,1,1.2], datum.value) >= 0", "value": 6}, "value": 3}}},
    "x2": {"datum": 0}, "y2": {"datum": 0}}},
  {"data": {"name": "sp"}, "transform": [{"filter": "indexof([60,120,240,300], datum.a) >= 0"}, {"calculate": "1.2*cos(datum.a*PI/180)", "as": "ex"}, {"calculate": "1.2*sin(datum.a*PI/180)", "as": "ey"}],
   "mark": {"type": "rule", "color": "#8c8c8c", "strokeWidth": 0.8},
   "encoding": {"x": {"field": "ex", "type": "quantitative", "scale": {"domain": [-1.2, 1.2], "nice": false, "zero": false}, "axis": null},
    "y": {"field": "ey", "type": "quantitative", "scale": {"domain": [-1.2, 1.3143], "nice": false, "zero": false}},
    "x2": {"datum": 0}, "y2": {"datum": 0}}},
  {"data": {"name": "sp"}, "transform": [{"filter": "indexof([0,180], datum.a) >= 0"}, {"calculate": "1.2*cos(datum.a*PI/180)", "as": "ex"}, {"calculate": "1.2*sin(datum.a*PI/180)", "as": "ey"}],
   "mark": {"type": "rule", "color": "#555", "strokeWidth": 1},
   "encoding": {"x": {"field": "ex", "type": "quantitative", "scale": {"domain": [-1.2, 1.2], "nice": false, "zero": false}, "axis": null},
    "y": {"field": "ey", "type": "quantitative", "scale": {"domain": [-1.2, 1.3143], "nice": false, "zero": false}},
    "x2": {"datum": 0}, "y2": {"datum": 0}}},
  {"data": {"values": [{}]}, "mark": {"type": "rule", "color": "#222", "strokeWidth": 1},
   "encoding": {"x": {"datum": -1.45, "type": "quantitative", "scale": {"domain": [-1.2, 1.2], "nice": false, "zero": false}, "axis": null},
    "y": {"datum": -1.2, "type": "quantitative", "scale": {"domain": [-1.2, 1.3143], "nice": false, "zero": false}}, "y2": {"datum": 1.2}}},
  {"data": {"values": [{}]}, "mark": {"type": "point", "shape": "circle", "size": 112896, "filled": false, "stroke": "#444", "strokeWidth": 1, "opacity": 1},
   "encoding": {"x": {"datum": 0, "type": "quantitative", "scale": {"domain": [-1.2, 1.2], "nice": false, "zero": false}, "axis": null},
    "y": {"datum": 0, "type": "quantitative", "scale": {"domain": [-1.2, 1.3143], "nice": false, "zero": false}}}},
  {"data": {"name": "pol"}, "transform": [{"filter": "datum.p=='e'"}, {"calculate": "datum.r*cos(datum.a*PI/180)", "as": "x"}, {"calculate": "datum.r*sin(datum.a*PI/180)", "as": "y"}],
   "mark": {"type": "line", "strokeWidth": 0.7, "color": "#333", "opacity": 0.8},
   "encoding": {"x": {"field": "x", "type": "quantitative", "scale": {"domain": [-1.2, 1.2], "nice": false, "zero": false}, "axis": null},
    "y": {"field": "y", "type": "quantitative", "scale": {"domain": [-1.2, 1.3143], "nice": false, "zero": false}},
    "detail": {"field": "s"}, "order": {"field": "a", "type": "quantitative"}}},
  {"data": {"name": "pol"}, "transform": [{"filter": "datum.p=='e' && datum.s=='g'"}, {"calculate": "datum.r*cos(datum.a*PI/180)", "as": "x"}, {"calculate": "datum.r*sin(datum.a*PI/180)", "as": "y"}],
   "mark": {"type": "point", "shape": "triangle-up", "filled": true, "size": 120, "fill": "#a8a8a8", "stroke": "#505050", "strokeWidth": 0.8, "opacity": 1},
   "encoding": {"x": {"field": "x", "type": "quantitative", "scale": {"domain": [-1.2, 1.2], "nice": false, "zero": false}, "axis": null},
    "y": {"field": "y", "type": "quantitative", "scale": {"domain": [-1.2, 1.3143], "nice": false, "zero": false}}}},
  {"data": {"name": "pol"}, "transform": [{"filter": "datum.p=='e' && datum.s=='r'"}, {"calculate": "datum.r*cos(datum.a*PI/180)", "as": "x"}, {"calculate": "datum.r*sin(datum.a*PI/180)", "as": "y"}],
   "mark": {"type": "point", "shape": "square", "filled": true, "size": 70, "fill": "#ee1111", "stroke": "#b03030", "strokeWidth": 0.6, "opacity": 1},
   "encoding": {"x": {"field": "x", "type": "quantitative", "scale": {"domain": [-1.2, 1.2], "nice": false, "zero": false}, "axis": null},
    "y": {"field": "y", "type": "quantitative", "scale": {"domain": [-1.2, 1.3143], "nice": false, "zero": false}}}},
  {"data": {"name": "pol"}, "transform": [{"filter": "datum.p=='e' && datum.s=='b'"}, {"calculate": "datum.r*cos(datum.a*PI/180)", "as": "x"}, {"calculate": "datum.r*sin(datum.a*PI/180)", "as": "y"}],
   "mark": {"type": "point", "shape": "circle", "filled": true, "size": 120, "fill": "#1010ee", "stroke": "#000080", "strokeWidth": 0.6, "opacity": 1},
   "encoding": {"x": {"field": "x", "type": "quantitative", "scale": {"domain": [-1.2, 1.2], "nice": false, "zero": false}, "axis": null},
    "y": {"field": "y", "type": "quantitative", "scale": {"domain": [-1.2, 1.3143], "nice": false, "zero": false}}}},
  {"data": {"name": "al"}, "transform": [{"calculate": "datum.a==0 ? 1.271 : datum.a==180 ? 1.343 : 1.35", "as": "rr"}, {"calculate": "datum.rr*cos(datum.a*PI/180)", "as": "lx"}, {"calculate": "datum.rr*sin(datum.a*PI/180)", "as": "ly"}],
   "mark": {"type": "text", "fontSize": 16, "baseline": "middle", "align": "center"},
   "encoding": {"x": {"field": "lx", "type": "quantitative", "scale": {"domain": [-1.2, 1.2], "nice": false, "zero": false}, "axis": null},
    "y": {"field": "ly", "type": "quantitative", "scale": {"domain": [-1.2, 1.3143], "nice": false, "zero": false}},
    "text": {"field": "t"}}},
  {"data": {"values": [{}]}, "mark": {"type": "text", "fontSize": 28, "baseline": "middle", "align": "center", "text": "(e)"},
   "encoding": {"x": {"datum": -1.274, "type": "quantitative", "scale": {"domain": [-1.2, 1.2], "nice": false, "zero": false}, "axis": null},
    "y": {"datum": 1.117, "type": "quantitative", "scale": {"domain": [-1.2, 1.3143], "nice": false, "zero": false}}}}
 ]},
 {"width": 391, "height": 318, "view": {"stroke": "#000", "strokeWidth": 1}, "resolve": {"scale": {"y": "independent"}}, "layer": [
  {"layer": [
   {"data": {"name": "ts"}, "transform": [{"filter": "datum.p=='f' && datum.s!='g'"}],
    "mark": {"type": "rule", "strokeWidth": 1},
    "encoding": {"x": {"field": "T", "type": "quantitative", "scale": {"domain": [1.8, 3.27, 4.37, 21], "range": [0, 194, 197, 391], "nice": false, "zero": false},
       "axis": {"title": "T (K)", "titleFontSize": 19, "titlePadding": 12, "labelOverlap": false, "tickCount": 100, "labelPadding": 4, "values": [1.8,1.95,2.1,2.25,2.4,2.55,2.7,2.85,3.0,3.15,6,7.5,9,10.5,12,13.5,15,16.5,18,19.5,21],
         "labelExpr": "indexof([1.8,2.1,2.4,2.7,3.0], datum.value) >= 0 ? format(datum.value, '.1f') : indexof([6,9,12,15,18,21], datum.value) >= 0 ? format(datum.value, 'd') : ''",
         "tickSize": {"condition": {"test": "indexof([1.8,2.1,2.4,2.7,3.0,6,9,12,15,18,21], datum.value) >= 0", "value": 5}, "value": 3}}},
     "y": {"field": "lo", "type": "quantitative", "scale": {"domain": [-0.5, 5.0], "nice": false, "zero": false},
       "axis": {"title": "Magnitude of symmetries (10⁻⁴ emu)", "titlePadding": 8, "labelPadding": 4, "labelOverlap": false, "tickCount": 100, "values": [-0.5,0,0.5,1,1.5,2,2.5,3,3.5,4,4.5,5],
         "labelExpr": "indexof([0,1,2,3,4,5], datum.value) >= 0 ? format(datum.value, 'd') : ''",
         "tickSize": {"condition": {"test": "indexof([0,1,2,3,4,5], datum.value) >= 0", "value": 5}, "value": 3}}},
     "y2": {"field": "hi"},
     "color": {"condition": {"test": "datum.s=='k'", "value": "#555"}, "value": "#a04040"}}},
   {"data": {"name": "ts"}, "transform": [{"filter": "datum.p=='f' && datum.s!='g'"}, {"fold": ["lo", "hi"], "as": ["cap", "cv"]}],
    "mark": {"type": "point", "shape": "stroke", "size": 64, "strokeWidth": 1, "opacity": 1},
    "encoding": {"x": {"field": "T", "type": "quantitative", "scale": {"domain": [1.8, 3.27, 4.37, 21], "range": [0, 194, 197, 391], "nice": false, "zero": false}},
     "y": {"field": "cv", "type": "quantitative", "scale": {"domain": [-0.5, 5.0], "nice": false, "zero": false}},
     "color": {"condition": {"test": "datum.s=='k'", "value": "#555"}, "value": "#a04040"}}},
   {"data": {"name": "ts"}, "transform": [{"filter": "datum.p=='f' && datum.s!='g'"}],
    "mark": {"type": "line", "strokeWidth": 0.8},
    "encoding": {"x": {"field": "T", "type": "quantitative", "scale": {"domain": [1.8, 3.27, 4.37, 21], "range": [0, 194, 197, 391], "nice": false, "zero": false}},
     "y": {"field": "v", "type": "quantitative", "scale": {"domain": [-0.5, 5.0], "nice": false, "zero": false}},
     "detail": {"field": "s"},
     "color": {"condition": {"test": "datum.s=='k'", "value": "#000"}, "value": "#ff3030"}}},
   {"data": {"name": "ts"}, "transform": [{"filter": "datum.p=='f' && datum.s!='g'"}],
    "mark": {"type": "point", "shape": "square", "filled": true, "size": 80, "strokeWidth": 0.8, "opacity": 1},
    "encoding": {"x": {"field": "T", "type": "quantitative", "scale": {"domain": [1.8, 3.27, 4.37, 21], "range": [0, 194, 197, 391], "nice": false, "zero": false}},
     "y": {"field": "v", "type": "quantitative", "scale": {"domain": [-0.5, 5.0], "nice": false, "zero": false}},
     "fill": {"condition": {"test": "datum.s=='k'", "value": "#000"}, "value": "#ee1111"},
     "stroke": {"condition": {"test": "datum.s=='k'", "value": "#999"}, "value": "#c06060"}}},
   {"data": {"values": [{}]}, "mark": {"type": "rule", "color": "#000", "strokeWidth": 1},
    "encoding": {"x": {"datum": 1.875, "type": "quantitative", "scale": {"domain": [1.8, 3.27, 4.37, 21], "range": [0, 194, 197, 391], "nice": false, "zero": false}}, "x2": {"datum": 2.029},
     "y": {"datum": 0.922, "type": "quantitative", "scale": {"domain": [-0.5, 5.0], "nice": false, "zero": false}}}},
   {"data": {"values": [{}]}, "mark": {"type": "point", "shape": "triangle-left", "filled": true, "size": 45, "color": "#000", "opacity": 1},
    "encoding": {"x": {"datum": 1.857, "type": "quantitative", "scale": {"domain": [1.8, 3.27, 4.37, 21], "range": [0, 194, 197, 391], "nice": false, "zero": false}},
     "y": {"datum": 0.922, "type": "quantitative", "scale": {"domain": [-0.5, 5.0], "nice": false, "zero": false}}}},
   {"data": {"values": [{}]}, "mark": {"type": "rule", "color": "#ff2020", "strokeWidth": 1},
    "encoding": {"x": {"datum": 1.895, "type": "quantitative", "scale": {"domain": [1.8, 3.27, 4.37, 21], "range": [0, 194, 197, 391], "nice": false, "zero": false}}, "x2": {"datum": 2.034},
     "y": {"datum": 1.915, "type": "quantitative", "scale": {"domain": [-0.5, 5.0], "nice": false, "zero": false}}, "y2": {"datum": 2.131}}},
   {"data": {"values": [{}]}, "mark": {"type": "point", "shape": "triangle-left", "filled": true, "size": 45, "color": "#ff2020", "opacity": 1, "angle": 326},
    "encoding": {"x": {"datum": 1.883, "type": "quantitative", "scale": {"domain": [1.8, 3.27, 4.37, 21], "range": [0, 194, 197, 391], "nice": false, "zero": false}},
     "y": {"datum": 1.901, "type": "quantitative", "scale": {"domain": [-0.5, 5.0], "nice": false, "zero": false}}}},
   {"data": {"values": [{}]}, "mark": {"type": "text", "fontSize": 27, "text": "(f)", "baseline": "middle", "align": "center"},
    "encoding": {"x": {"datum": 16.6, "type": "quantitative", "scale": {"domain": [1.8, 3.27, 4.37, 21], "range": [0, 194, 197, 391], "nice": false, "zero": false}},
     "y": {"datum": 4.46, "type": "quantitative", "scale": {"domain": [-0.5, 5.0], "nice": false, "zero": false}}}},
   {"data": {"values": [{}]}, "mark": {"type": "text", "fontSize": 13, "fontWeight": "bold", "text": "//", "baseline": "middle", "align": "center"},
    "encoding": {"x": {"datum": 3.8, "type": "quantitative", "scale": {"domain": [1.8, 3.27, 4.37, 21], "range": [0, 194, 197, 391], "nice": false, "zero": false}},
     "y": {"datum": -0.5, "type": "quantitative", "scale": {"domain": [-0.5, 5.0], "nice": false, "zero": false}}}},
   {"data": {"values": [{}]}, "mark": {"type": "text", "fontSize": 13, "fontWeight": "bold", "text": "//", "baseline": "middle", "align": "center"},
    "encoding": {"x": {"datum": 3.8, "type": "quantitative", "scale": {"domain": [1.8, 3.27, 4.37, 21], "range": [0, 194, 197, 391], "nice": false, "zero": false}},
     "y": {"datum": 5.0, "type": "quantitative", "scale": {"domain": [-0.5, 5.0], "nice": false, "zero": false}}}}
  ]},
  {"layer": [
   {"data": {"name": "ts"}, "transform": [{"filter": "datum.p=='f' && datum.s=='g'"}],
    "mark": {"type": "line", "strokeWidth": 0.8, "color": "#333"},
    "encoding": {"x": {"field": "T", "type": "quantitative", "scale": {"domain": [1.8, 3.27, 4.37, 21], "range": [0, 194, 197, 391], "nice": false, "zero": false}},
     "y": {"field": "v", "type": "quantitative", "scale": {"domain": [2.7, 3.552], "nice": false, "zero": false},
       "axis": {"orient": "right", "title": "offset (10⁻² emu)", "titlePadding": 8, "labelPadding": 4, "labelOverlap": false, "tickCount": 100, "values": [2.7,2.75,2.8,2.85,2.9,2.95,3,3.05,3.1,3.15,3.2,3.25,3.3,3.35,3.4,3.45,3.5,3.55],
         "labelExpr": "indexof([2.7,2.8,2.9,3,3.1,3.2,3.3,3.4,3.5], datum.value) >= 0 ? format(datum.value, '.1f') : ''",
         "tickSize": {"condition": {"test": "indexof([2.7,2.8,2.9,3,3.1,3.2,3.3,3.4,3.5], datum.value) >= 0", "value": 5}, "value": 3}}}}},
   {"data": {"name": "ts"}, "transform": [{"filter": "datum.p=='f' && datum.s=='g'"}],
    "mark": {"type": "point", "shape": "M-1,-1H1V1H-1Z M0,-1V1 M-1,0H1", "filled": true, "size": 80, "fill": "#33dd33", "stroke": "#1b4d1b", "strokeWidth": 0.8, "opacity": 1},
    "encoding": {"x": {"field": "T", "type": "quantitative", "scale": {"domain": [1.8, 3.27, 4.37, 21], "range": [0, 194, 197, 391], "nice": false, "zero": false}},
     "y": {"field": "v", "type": "quantitative", "scale": {"domain": [2.7, 3.552], "nice": false, "zero": false}}}},
   {"data": {"values": [{}]}, "mark": {"type": "rule", "color": "#33ee33", "strokeWidth": 1},
    "encoding": {"x": {"datum": 16.14, "type": "quantitative", "scale": {"domain": [1.8, 3.27, 4.37, 21], "range": [0, 194, 197, 391], "nice": false, "zero": false}}, "x2": {"datum": 19.1},
     "y": {"datum": 2.949, "type": "quantitative", "scale": {"domain": [2.7, 3.552], "nice": false, "zero": false}}}},
   {"data": {"values": [{}]}, "mark": {"type": "point", "shape": "triangle-right", "filled": true, "size": 45, "color": "#33ee33", "opacity": 1},
    "encoding": {"x": {"datum": 19.29, "type": "quantitative", "scale": {"domain": [1.8, 3.27, 4.37, 21], "range": [0, 194, 197, 391], "nice": false, "zero": false}},
     "y": {"datum": 2.949, "type": "quantitative", "scale": {"domain": [2.7, 3.552], "nice": false, "zero": false}}}}
  ]}
 ]}
]
}
